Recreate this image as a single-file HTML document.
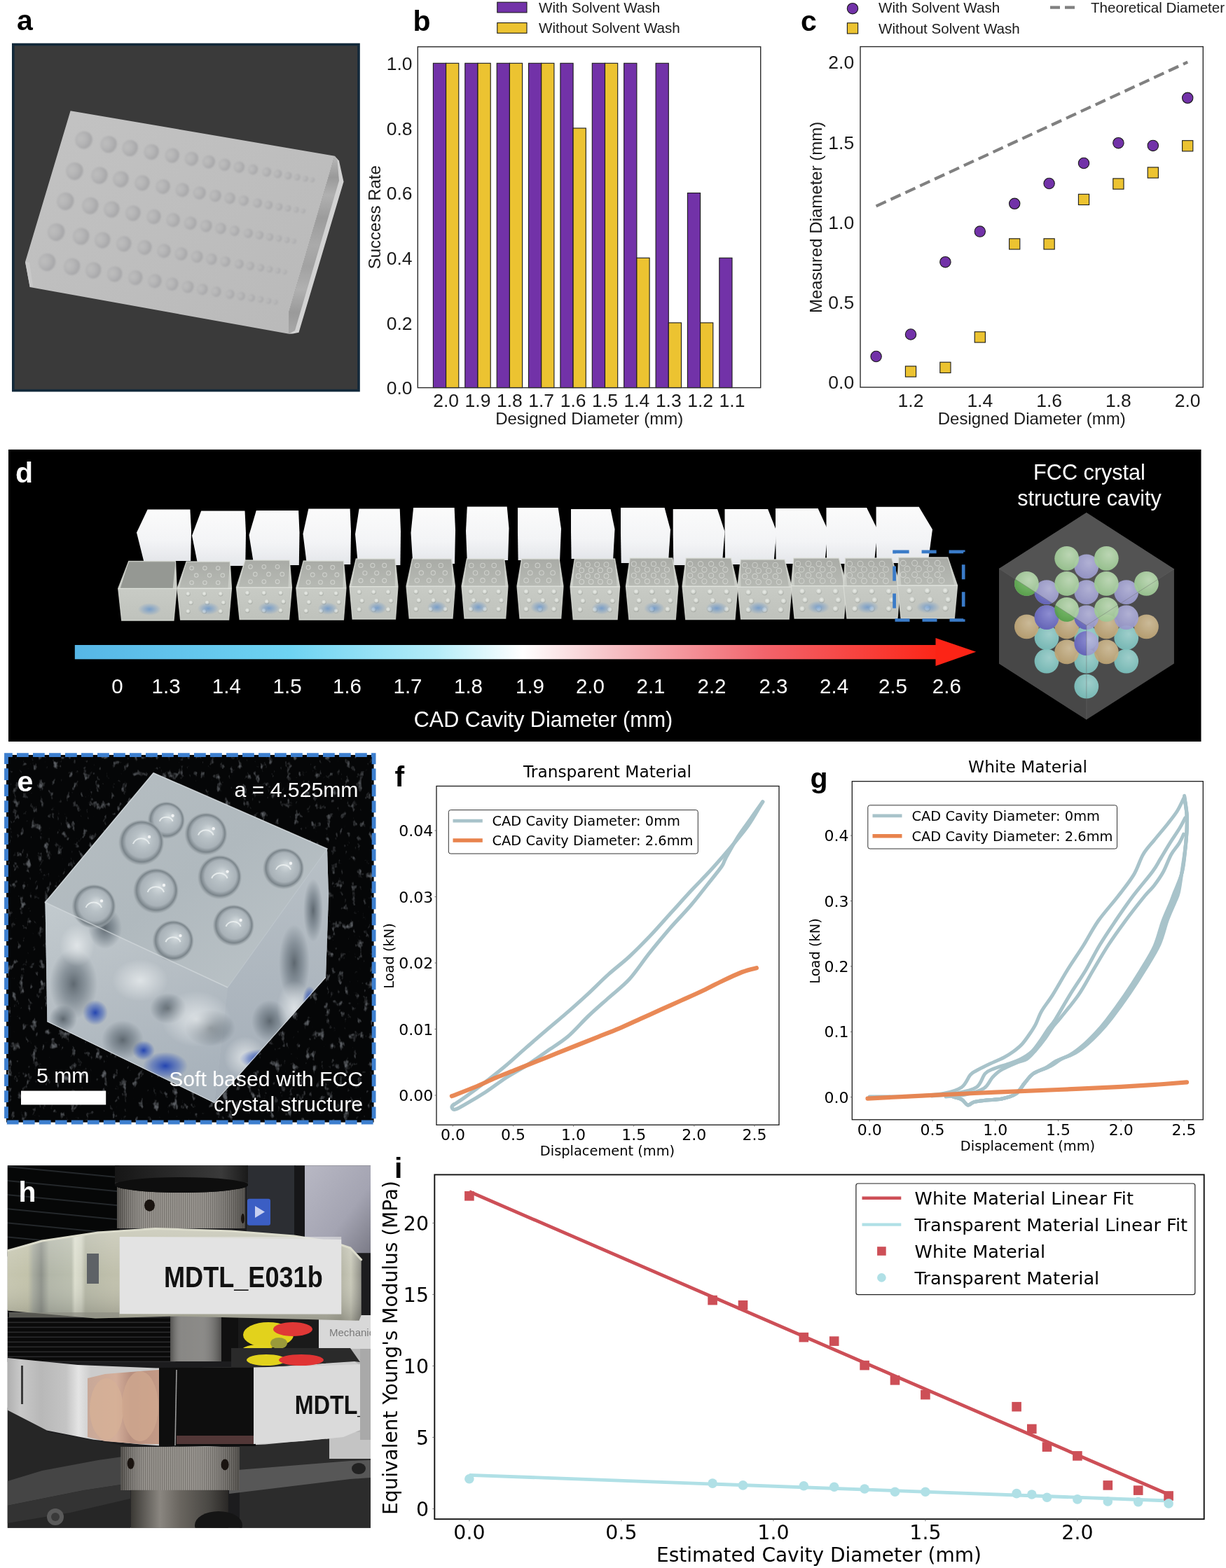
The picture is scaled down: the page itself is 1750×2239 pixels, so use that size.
<!DOCTYPE html>
<html><head><meta charset="utf-8"><title>Figure</title>
<style>html,body{margin:0;padding:0;background:#fff;}body{width:1750px;height:2239px;overflow:hidden;}svg{display:block;}</style>
</head><body><svg width="1750" height="2239" viewBox="0 0 1750 2239"><defs><clipPath id="clipf"><rect x="623" y="1122.5" width="488.5" height="483.5"/></clipPath><clipPath id="clipg"><rect x="1216.3" y="1115.7" width="501.0" height="483.0999999999999"/></clipPath><linearGradient id="aside" x1="0" y1="0" x2="0" y2="1"><stop offset="0" stop-color="#b8b8b8"/><stop offset="0.12" stop-color="#9a9a9a"/><stop offset="0.22" stop-color="#b0b0b0"/><stop offset="0.35" stop-color="#9c9c9c"/><stop offset="0.5" stop-color="#aaaaaa"/><stop offset="0.62" stop-color="#a2a2a2"/><stop offset="0.75" stop-color="#b0b0b0"/><stop offset="0.88" stop-color="#9a9a9a"/><stop offset="1" stop-color="#a8a8a8"/></linearGradient><linearGradient id="atop" x1="0" y1="0" x2="1" y2="1"><stop offset="0" stop-color="#c3c3c3"/><stop offset="1" stop-color="#b9b9b9"/></linearGradient><radialGradient id="dimp" cx="0.55" cy="0.5" r="0.5"><stop offset="0" stop-color="#a9a8aa"/><stop offset="0.7" stop-color="#adadae"/><stop offset="1" stop-color="#b8b8b8" stop-opacity="0"/></radialGradient><filter id="blur1"><feGaussianBlur stdDeviation="1.2"/></filter><radialGradient id="dimp2" cx="0.32" cy="0.42" r="0.72"><stop offset="0" stop-color="#bdbdbd"/><stop offset="0.45" stop-color="#b5b5b6"/><stop offset="0.85" stop-color="#a7a7a9"/><stop offset="1" stop-color="#adadae" stop-opacity="0"/></radialGradient><linearGradient id="wcube" x1="0" y1="0" x2="0" y2="1"><stop offset="0" stop-color="#fbfbfb"/><stop offset="0.6" stop-color="#f3f4f6"/><stop offset="1" stop-color="#e4e6ea"/></linearGradient><linearGradient id="tcubeT" x1="0" y1="0" x2="0" y2="1"><stop offset="0" stop-color="#a9aba6"/><stop offset="1" stop-color="#b7bab4"/></linearGradient><linearGradient id="tcubeF" x1="0" y1="0" x2="0" y2="1"><stop offset="0" stop-color="#d0d3cd"/><stop offset="1" stop-color="#bfc2bc"/></linearGradient><radialGradient id="blueb"><stop offset="0" stop-color="#3f7fd0" stop-opacity="0.75"/><stop offset="1" stop-color="#3f7fd0" stop-opacity="0"/></radialGradient><radialGradient id="bump" cx="0.45" cy="0.4" r="0.6"><stop offset="0" stop-color="#f4f6f2"/><stop offset="0.6" stop-color="#d6dad4"/><stop offset="1" stop-color="#8a8e88" stop-opacity="0.6"/></radialGradient><linearGradient id="arrg" x1="106.8" y1="0" x2="1336" y2="0" gradientUnits="userSpaceOnUse"><stop offset="0" stop-color="#56b6e6"/><stop offset="0.25" stop-color="#6ed3f2"/><stop offset="0.42" stop-color="#b4ecf8"/><stop offset="0.52" stop-color="#ffffff"/><stop offset="0.62" stop-color="#f6c3c8"/><stop offset="0.8" stop-color="#f2646c"/><stop offset="1" stop-color="#fc2618"/></linearGradient><radialGradient id="sg" cx="0.6" cy="0.35" r="0.7"><stop offset="0" stop-color="#c9e8c0"/><stop offset="1" stop-color="#9ccc92"/></radialGradient><radialGradient id="sp" cx="0.6" cy="0.35" r="0.7"><stop offset="0" stop-color="#bdbde6"/><stop offset="1" stop-color="#9898d0"/></radialGradient><radialGradient id="st" cx="0.6" cy="0.35" r="0.7"><stop offset="0" stop-color="#dcc8a0"/><stop offset="1" stop-color="#c0a470"/></radialGradient><radialGradient id="sc" cx="0.6" cy="0.35" r="0.7"><stop offset="0" stop-color="#a8e0dc"/><stop offset="1" stop-color="#78c4c0"/></radialGradient><clipPath id="lface"><polygon points="1426,812 1550.8,893 1550.8,1027.6 1426,947.6"/></clipPath><radialGradient id="sgD" cx="0.6" cy="0.35" r="0.7"><stop offset="0" stop-color="#7cc46c"/><stop offset="1" stop-color="#4e9e40"/></radialGradient><radialGradient id="spD" cx="0.6" cy="0.35" r="0.7"><stop offset="0" stop-color="#8a8ad8"/><stop offset="1" stop-color="#5a5ab8"/></radialGradient><filter id="speck" x="0" y="0" width="1" height="1"><feTurbulence type="fractalNoise" baseFrequency="0.11 0.07" numOctaves="3" seed="11" result="n"/><feColorMatrix type="matrix" values="0 0 0 0 0.52  0 0 0 0 0.56  0 0 0 0 0.62  0 0 0 4.5 -2.75"/><feGaussianBlur stdDeviation="0.7"/></filter><clipPath id="clipe"><rect x="11.7" y="1081.1" width="519" height="518"/></clipPath><linearGradient id="etop" x1="0" y1="0" x2="1" y2="1"><stop offset="0" stop-color="#b6bec2"/><stop offset="0.5" stop-color="#b0b9be"/><stop offset="1" stop-color="#bcc4c8"/></linearGradient><linearGradient id="eleft" x1="0" y1="0" x2="0.3" y2="1"><stop offset="0" stop-color="#c2cace"/><stop offset="0.5" stop-color="#b6bec4"/><stop offset="1" stop-color="#a9b3bc"/></linearGradient><linearGradient id="eright" x1="0" y1="0" x2="0" y2="1"><stop offset="0" stop-color="#b8c0c6"/><stop offset="1" stop-color="#a4aeb8"/></linearGradient><radialGradient id="ebub" cx="0.5" cy="0.5" r="0.5" fx="0.58" fy="0.4"><stop offset="0" stop-color="#d6dde0"/><stop offset="0.35" stop-color="#b8c1c6"/><stop offset="0.7" stop-color="#a9b2b8"/><stop offset="0.86" stop-color="#7a848a"/><stop offset="0.95" stop-color="#9aa3a8" stop-opacity="0.6"/><stop offset="1" stop-color="#b0b8bc" stop-opacity="0"/></radialGradient><radialGradient id="edark"><stop offset="0" stop-color="#505a62" stop-opacity="0.85"/><stop offset="0.5" stop-color="#5a6670" stop-opacity="0.5"/><stop offset="1" stop-color="#5a6670" stop-opacity="0"/></radialGradient><radialGradient id="eblue"><stop offset="0" stop-color="#1d3fb0" stop-opacity="0.95"/><stop offset="0.6" stop-color="#3456b8" stop-opacity="0.5"/><stop offset="1" stop-color="#3a5ab8" stop-opacity="0"/></radialGradient><radialGradient id="ewhite"><stop offset="0" stop-color="#e8ecee" stop-opacity="0.8"/><stop offset="1" stop-color="#e8ecee" stop-opacity="0"/></radialGradient><clipPath id="ecube"><polygon points="219,1103.7 467,1212 469,1280 465,1396 306,1575 67.4,1459 64.5,1288.5"/></clipPath><clipPath id="cliph"><rect x="10.6" y="1664.2" width="518.4" height="517.6000000000001"/></clipPath><pattern id="hstripe" width="60" height="20" patternUnits="userSpaceOnUse" patternTransform="translate(0,1667) rotate(5.5)"><rect width="60" height="20" fill="#060707"/><rect y="17" width="60" height="1.6" fill="#2a2e32"/></pattern><pattern id="hstripe2" width="40" height="7" patternUnits="userSpaceOnUse"><rect width="40" height="7" fill="#0a0a0a"/><rect y="4.5" width="40" height="1.6" fill="#2a2a2c"/></pattern><pattern id="knurl" width="3" height="10" patternUnits="userSpaceOnUse"><rect width="3" height="10" fill="#8c8882"/><rect width="1.2" height="10" fill="#6a6660"/></pattern><linearGradient id="knshade" x1="0" y1="0" x2="1" y2="0"><stop offset="0" stop-color="#000" stop-opacity="0.35"/><stop offset="0.25" stop-color="#fff" stop-opacity="0.1"/><stop offset="0.6" stop-color="#fff" stop-opacity="0.12"/><stop offset="1" stop-color="#000" stop-opacity="0.35"/></linearGradient><linearGradient id="screen" x1="0" y1="0" x2="1" y2="1"><stop offset="0" stop-color="#b8b8c4"/><stop offset="0.6" stop-color="#a4a4b2"/><stop offset="1" stop-color="#7a7a86"/></linearGradient><linearGradient id="silverL" x1="0" y1="0" x2="1" y2="0"><stop offset="0" stop-color="#a8a6a0"/><stop offset="0.15" stop-color="#c8c6c0"/><stop offset="0.35" stop-color="#b0aea8"/><stop offset="0.55" stop-color="#e8e8e6"/><stop offset="0.65" stop-color="#9c9a96"/><stop offset="0.8" stop-color="#c4c2bc"/><stop offset="1" stop-color="#b6b4ae"/></linearGradient><linearGradient id="silverU" gradientUnits="userSpaceOnUse" x1="11" y1="0" x2="516" y2="0"><stop offset="0" stop-color="#c6c6b0"/><stop offset="0.057" stop-color="#c2c2aa"/><stop offset="0.073" stop-color="#a6aa9e"/><stop offset="0.095" stop-color="#8e928a"/><stop offset="0.117" stop-color="#b2b6a8"/><stop offset="0.18" stop-color="#babeae"/><stop offset="0.19" stop-color="#dcdece"/><stop offset="0.208" stop-color="#d2d4c4"/><stop offset="0.22" stop-color="#b6b8a6"/><stop offset="0.3" stop-color="#c0c0ac"/><stop offset="0.9" stop-color="#c0c0b0"/><stop offset="0.94" stop-color="#b4b4a4"/><stop offset="0.97" stop-color="#c8c8b8"/><stop offset="1" stop-color="#8c8c84"/></linearGradient><linearGradient id="silverLo" gradientUnits="userSpaceOnUse" x1="11" y1="0" x2="130" y2="0"><stop offset="0" stop-color="#b0b0b0"/><stop offset="0.15" stop-color="#c8c8c8"/><stop offset="0.4" stop-color="#b8b8b8"/><stop offset="0.7" stop-color="#c4c4c4"/><stop offset="0.85" stop-color="#e4e4e4"/><stop offset="1" stop-color="#cccccc"/></linearGradient><linearGradient id="silverV" x1="0" y1="0" x2="0" y2="1"><stop offset="0" stop-color="#fff" stop-opacity="0.25"/><stop offset="0.5" stop-color="#fff" stop-opacity="0"/><stop offset="1" stop-color="#000" stop-opacity="0.2"/></linearGradient><linearGradient id="cylG" x1="0" y1="0" x2="1" y2="0"><stop offset="0" stop-color="#3a3834"/><stop offset="0.3" stop-color="#8a8680"/><stop offset="0.5" stop-color="#6a6660"/><stop offset="0.8" stop-color="#4a4844"/><stop offset="1" stop-color="#2a2826"/></linearGradient><linearGradient id="skin" x1="0" y1="0" x2="1" y2="0"><stop offset="0" stop-color="#c8a898"/><stop offset="0.4" stop-color="#d4ae9a"/><stop offset="0.6" stop-color="#b89080"/><stop offset="1" stop-color="#c49a86"/></linearGradient><linearGradient id="cylTop" x1="0" y1="0" x2="1" y2="0"><stop offset="0" stop-color="#161616"/><stop offset="0.45" stop-color="#2a2a2a"/><stop offset="0.8" stop-color="#3a3a3a"/><stop offset="1" stop-color="#1a1a1a"/></linearGradient></defs><rect x="0" y="0" width="1750" height="2239" fill="#ffffff" stroke="none" stroke-width="1" /><rect x="618.4" y="90.3" width="18.2" height="463.3" fill="#7232a8" stroke="#1a1a1a" stroke-width="1.1" /><rect x="636.6" y="90.3" width="18.2" height="463.3" fill="#ecc331" stroke="#1a1a1a" stroke-width="1.1" /><text x="636.6" y="580.5" font-family="Liberation Sans, sans-serif" font-size="26.5" text-anchor="middle" font-weight="normal" fill="#1a1a1a" >2.0</text><rect x="663.8" y="90.3" width="18.2" height="463.3" fill="#7232a8" stroke="#1a1a1a" stroke-width="1.1" /><rect x="682" y="90.3" width="18.2" height="463.3" fill="#ecc331" stroke="#1a1a1a" stroke-width="1.1" /><text x="682" y="580.5" font-family="Liberation Sans, sans-serif" font-size="26.5" text-anchor="middle" font-weight="normal" fill="#1a1a1a" >1.9</text><rect x="709.2" y="90.3" width="18.2" height="463.3" fill="#7232a8" stroke="#1a1a1a" stroke-width="1.1" /><rect x="727.4" y="90.3" width="18.2" height="463.3" fill="#ecc331" stroke="#1a1a1a" stroke-width="1.1" /><text x="727.4" y="580.5" font-family="Liberation Sans, sans-serif" font-size="26.5" text-anchor="middle" font-weight="normal" fill="#1a1a1a" >1.8</text><rect x="754.5" y="90.3" width="18.2" height="463.3" fill="#7232a8" stroke="#1a1a1a" stroke-width="1.1" /><rect x="772.7" y="90.3" width="18.2" height="463.3" fill="#ecc331" stroke="#1a1a1a" stroke-width="1.1" /><text x="772.7" y="580.5" font-family="Liberation Sans, sans-serif" font-size="26.5" text-anchor="middle" font-weight="normal" fill="#1a1a1a" >1.7</text><rect x="799.9" y="90.3" width="18.2" height="463.3" fill="#7232a8" stroke="#1a1a1a" stroke-width="1.1" /><rect x="818.1" y="183" width="18.2" height="370.6" fill="#ecc331" stroke="#1a1a1a" stroke-width="1.1" /><text x="818.1" y="580.5" font-family="Liberation Sans, sans-serif" font-size="26.5" text-anchor="middle" font-weight="normal" fill="#1a1a1a" >1.6</text><rect x="845.3" y="90.3" width="18.2" height="463.3" fill="#7232a8" stroke="#1a1a1a" stroke-width="1.1" /><rect x="863.5" y="90.3" width="18.2" height="463.3" fill="#ecc331" stroke="#1a1a1a" stroke-width="1.1" /><text x="863.5" y="580.5" font-family="Liberation Sans, sans-serif" font-size="26.5" text-anchor="middle" font-weight="normal" fill="#1a1a1a" >1.5</text><rect x="890.7" y="90.3" width="18.2" height="463.3" fill="#7232a8" stroke="#1a1a1a" stroke-width="1.1" /><rect x="908.9" y="368.3" width="18.2" height="185.3" fill="#ecc331" stroke="#1a1a1a" stroke-width="1.1" /><text x="908.9" y="580.5" font-family="Liberation Sans, sans-serif" font-size="26.5" text-anchor="middle" font-weight="normal" fill="#1a1a1a" >1.4</text><rect x="936.1" y="90.3" width="18.2" height="463.3" fill="#7232a8" stroke="#1a1a1a" stroke-width="1.1" /><rect x="954.3" y="460.9" width="18.2" height="92.7" fill="#ecc331" stroke="#1a1a1a" stroke-width="1.1" /><text x="954.3" y="580.5" font-family="Liberation Sans, sans-serif" font-size="26.5" text-anchor="middle" font-weight="normal" fill="#1a1a1a" >1.3</text><rect x="981.4" y="275.6" width="18.2" height="278" fill="#7232a8" stroke="#1a1a1a" stroke-width="1.1" /><rect x="999.6" y="460.9" width="18.2" height="92.7" fill="#ecc331" stroke="#1a1a1a" stroke-width="1.1" /><text x="999.6" y="580.5" font-family="Liberation Sans, sans-serif" font-size="26.5" text-anchor="middle" font-weight="normal" fill="#1a1a1a" >1.2</text><rect x="1026.8" y="368.3" width="18.2" height="185.3" fill="#7232a8" stroke="#1a1a1a" stroke-width="1.1" /><text x="1045" y="580.5" font-family="Liberation Sans, sans-serif" font-size="26.5" text-anchor="middle" font-weight="normal" fill="#1a1a1a" >1.1</text><rect x="596.3" y="66.8" width="489.4" height="486.8" fill="none" stroke="#2b2b2b" stroke-width="1.4" /><text x="588.6" y="563.3" font-family="Liberation Sans, sans-serif" font-size="26.5" text-anchor="end" font-weight="normal" fill="#1a1a1a" >0.0</text><text x="588.6" y="470.6" font-family="Liberation Sans, sans-serif" font-size="26.5" text-anchor="end" font-weight="normal" fill="#1a1a1a" >0.2</text><text x="588.6" y="378" font-family="Liberation Sans, sans-serif" font-size="26.5" text-anchor="end" font-weight="normal" fill="#1a1a1a" >0.4</text><text x="588.6" y="285.3" font-family="Liberation Sans, sans-serif" font-size="26.5" text-anchor="end" font-weight="normal" fill="#1a1a1a" >0.6</text><text x="588.6" y="192.7" font-family="Liberation Sans, sans-serif" font-size="26.5" text-anchor="end" font-weight="normal" fill="#1a1a1a" >0.8</text><text x="588.6" y="100" font-family="Liberation Sans, sans-serif" font-size="26.5" text-anchor="end" font-weight="normal" fill="#1a1a1a" >1.0</text><text x="841.2" y="606.4" font-family="Liberation Sans, sans-serif" font-size="24" text-anchor="middle" font-weight="normal" fill="#1a1a1a" >Designed Diameter (mm)</text><text transform="translate(543.3,310.2) rotate(-90)" x="0" y="0" font-family="Liberation Sans, sans-serif" font-size="24" text-anchor="middle" fill="#1a1a1a">Success Rate</text><rect x="709.8" y="3.2" width="42.2" height="14.7" fill="#7232a8" stroke="#1a1a1a" stroke-width="1.1" /><rect x="709.8" y="32.6" width="42.2" height="14.7" fill="#ecc331" stroke="#1a1a1a" stroke-width="1.1" /><text x="769" y="17.6" font-family="Liberation Sans, sans-serif" font-size="20.6" text-anchor="start" font-weight="normal" fill="#1a1a1a" >With Solvent Wash</text><text x="769" y="47.1" font-family="Liberation Sans, sans-serif" font-size="20.6" text-anchor="start" font-weight="normal" fill="#1a1a1a" >Without Solvent Wash</text><text x="589.5" y="44" font-family="Liberation Sans, sans-serif" font-size="41" text-anchor="start" font-weight="bold" fill="#000" >b</text><line x1="1250.6" y1="294.4" x2="1695.2" y2="88.7" stroke="#808080" stroke-width="4.2" stroke-dasharray="15.5,7.5"/><circle cx="1250.6" cy="509" r="7.7" fill="#7232a8" stroke="#1a1a1a" stroke-width="1.1"/><circle cx="1300" cy="477.5" r="7.7" fill="#7232a8" stroke="#1a1a1a" stroke-width="1.1"/><circle cx="1349.4" cy="374.2" r="7.7" fill="#7232a8" stroke="#1a1a1a" stroke-width="1.1"/><circle cx="1398.8" cy="330.6" r="7.7" fill="#7232a8" stroke="#1a1a1a" stroke-width="1.1"/><circle cx="1448.2" cy="290.8" r="7.7" fill="#7232a8" stroke="#1a1a1a" stroke-width="1.1"/><circle cx="1497.6" cy="262" r="7.7" fill="#7232a8" stroke="#1a1a1a" stroke-width="1.1"/><circle cx="1547" cy="233" r="7.7" fill="#7232a8" stroke="#1a1a1a" stroke-width="1.1"/><circle cx="1596.4" cy="204.2" r="7.7" fill="#7232a8" stroke="#1a1a1a" stroke-width="1.1"/><circle cx="1645.8" cy="207.9" r="7.7" fill="#7232a8" stroke="#1a1a1a" stroke-width="1.1"/><circle cx="1695.2" cy="139.8" r="7.7" fill="#7232a8" stroke="#1a1a1a" stroke-width="1.1"/><rect x="1292.4" y="522.9" width="15.2" height="15.2" fill="#ecc331" stroke="#1a1a1a" stroke-width="1.1" /><rect x="1341.8" y="517.2" width="15.2" height="15.2" fill="#ecc331" stroke="#1a1a1a" stroke-width="1.1" /><rect x="1391.2" y="473.8" width="15.2" height="15.2" fill="#ecc331" stroke="#1a1a1a" stroke-width="1.1" /><rect x="1440.6" y="340.8" width="15.2" height="15.2" fill="#ecc331" stroke="#1a1a1a" stroke-width="1.1" /><rect x="1490" y="340.8" width="15.2" height="15.2" fill="#ecc331" stroke="#1a1a1a" stroke-width="1.1" /><rect x="1539.4" y="277.3" width="15.2" height="15.2" fill="#ecc331" stroke="#1a1a1a" stroke-width="1.1" /><rect x="1588.8" y="254.9" width="15.2" height="15.2" fill="#ecc331" stroke="#1a1a1a" stroke-width="1.1" /><rect x="1638.2" y="238.9" width="15.2" height="15.2" fill="#ecc331" stroke="#1a1a1a" stroke-width="1.1" /><rect x="1687.6" y="200.7" width="15.2" height="15.2" fill="#ecc331" stroke="#1a1a1a" stroke-width="1.1" /><rect x="1228" y="66.6" width="489.3" height="486.4" fill="none" stroke="#2b2b2b" stroke-width="1.4" /><text x="1300" y="580.7" font-family="Liberation Sans, sans-serif" font-size="26.5" text-anchor="middle" font-weight="normal" fill="#1a1a1a" >1.2</text><text x="1398.8" y="580.7" font-family="Liberation Sans, sans-serif" font-size="26.5" text-anchor="middle" font-weight="normal" fill="#1a1a1a" >1.4</text><text x="1497.6" y="580.7" font-family="Liberation Sans, sans-serif" font-size="26.5" text-anchor="middle" font-weight="normal" fill="#1a1a1a" >1.6</text><text x="1596.4" y="580.7" font-family="Liberation Sans, sans-serif" font-size="26.5" text-anchor="middle" font-weight="normal" fill="#1a1a1a" >1.8</text><text x="1695.2" y="580.7" font-family="Liberation Sans, sans-serif" font-size="26.5" text-anchor="middle" font-weight="normal" fill="#1a1a1a" >2.0</text><text x="1219.2" y="555.4" font-family="Liberation Sans, sans-serif" font-size="26.5" text-anchor="end" font-weight="normal" fill="#1a1a1a" >0.0</text><text x="1219.2" y="441.2" font-family="Liberation Sans, sans-serif" font-size="26.5" text-anchor="end" font-weight="normal" fill="#1a1a1a" >0.5</text><text x="1219.2" y="326.9" font-family="Liberation Sans, sans-serif" font-size="26.5" text-anchor="end" font-weight="normal" fill="#1a1a1a" >1.0</text><text x="1219.2" y="212.7" font-family="Liberation Sans, sans-serif" font-size="26.5" text-anchor="end" font-weight="normal" fill="#1a1a1a" >1.5</text><text x="1219.2" y="98.4" font-family="Liberation Sans, sans-serif" font-size="26.5" text-anchor="end" font-weight="normal" fill="#1a1a1a" >2.0</text><text x="1472.8" y="605.5" font-family="Liberation Sans, sans-serif" font-size="24" text-anchor="middle" font-weight="normal" fill="#1a1a1a" >Designed Diameter (mm)</text><text transform="translate(1173,310.4) rotate(-90)" x="0" y="0" font-family="Liberation Sans, sans-serif" font-size="24" text-anchor="middle" fill="#1a1a1a">Measured Diameter (mm)</text><circle cx="1217" cy="12.2" r="7.7" fill="#7232a8" stroke="#1a1a1a" stroke-width="1.1"/><rect x="1209.4" y="32.8" width="15.2" height="15.2" fill="#ecc331" stroke="#1a1a1a" stroke-width="1.1" /><text x="1254" y="18.3" font-family="Liberation Sans, sans-serif" font-size="20.6" text-anchor="start" font-weight="normal" fill="#1a1a1a" >With Solvent Wash</text><text x="1254" y="47.6" font-family="Liberation Sans, sans-serif" font-size="20.6" text-anchor="start" font-weight="normal" fill="#1a1a1a" >Without Solvent Wash</text><line x1="1499" y1="10.7" x2="1535" y2="10.7" stroke="#808080" stroke-width="4.2" stroke-dasharray="14,7"/><text x="1557" y="18.3" font-family="Liberation Sans, sans-serif" font-size="20.6" text-anchor="start" font-weight="normal" fill="#1a1a1a" >Theoretical Diameter</text><text x="1143" y="43.8" font-family="Liberation Sans, sans-serif" font-size="41" text-anchor="start" font-weight="bold" fill="#000" >c</text><g clip-path="url(#clipf)"><path d="M646.4 1578.4 C649.3 1576.5 656.1 1572.3 663.9 1566.7 C671.7 1561.1 683.5 1552.3 693.2 1544.7 C703 1537.2 713.2 1529.1 722.5 1521.3 C731.8 1513.5 739.1 1506.4 748.9 1497.9 C758.6 1489.3 770.8 1478.8 781.1 1470 C791.4 1461.2 800.6 1453.7 810.4 1445.1 C820.2 1436.6 829.9 1427.8 839.7 1418.8 C849.4 1409.7 859.2 1399.7 869 1390.9 C878.7 1382.2 888.5 1375.1 898.3 1366 C908 1357 917.8 1347 927.6 1336.8 C937.3 1326.5 947.1 1315.3 956.8 1304.5 C966.6 1293.8 976.4 1282.8 986.1 1272.3 C995.9 1261.8 1005.7 1252.3 1015.4 1241.6 C1025.2 1230.8 1035.9 1218.4 1044.7 1207.9 C1053.5 1197.4 1060.8 1189.1 1068.2 1178.6 C1075.5 1168.1 1085.2 1150.5 1088.7 1144.9" fill="none" stroke="#a8c3ca" stroke-width="5.2" stroke-linejoin="round" stroke-linecap="round" /><path d="M1088.7 1144.9 C1085.7 1149 1076.9 1161.5 1071.1 1169.8 C1065.2 1178.1 1059.4 1185.4 1053.5 1194.7 C1047.7 1204 1039.8 1218.4 1035.9 1225.4 C1032 1232.5 1034.5 1230.8 1030.1 1237.2 C1025.7 1243.5 1016.9 1254.3 1009.6 1263.5 C1002.2 1272.8 994.9 1282.6 986.1 1292.8 C977.4 1303.1 966.6 1313.8 956.8 1325 C947.1 1336.3 937.3 1348 927.6 1360.2 C917.8 1372.4 908 1387.5 898.3 1398.3 C888.5 1409 878.7 1415.8 869 1424.6 C859.2 1433.4 849.4 1441.7 839.7 1451 C829.9 1460.3 820.2 1472 810.4 1480.3 C800.6 1488.6 790.9 1494 781.1 1500.8 C771.3 1507.6 761.6 1514.9 751.8 1521.3 C742 1527.6 732.3 1532.5 722.5 1538.9 C712.8 1545.2 703 1553 693.2 1559.4 C683.5 1565.7 671.3 1572.8 663.9 1576.9 C656.6 1581.1 652.5 1583.7 649.3 1584.3 C646.1 1584.9 645.1 1581.7 644.9 1580.5 C644.7 1579.2 647.3 1577.5 647.8 1576.9" fill="none" stroke="#a8c3ca" stroke-width="5.2" stroke-linejoin="round" stroke-linecap="round" /><path d="M644.9 1565.2 C650.5 1563 668.1 1556.4 678.6 1552 C689.1 1547.7 698.1 1543 707.9 1538.9 C717.6 1534.7 727.4 1531.1 737.2 1527.1 C746.9 1523.2 756.7 1519.3 766.5 1515.4 C776.2 1511.5 786 1507.6 795.7 1503.7 C805.5 1499.8 815.3 1495.9 825 1492 C834.8 1488.1 844.6 1484.2 854.3 1480.3 C864.1 1476.4 873.9 1472.7 883.6 1468.6 C893.4 1464.4 903.1 1459.8 912.9 1455.4 C922.7 1451 932.4 1446.6 942.2 1442.2 C952 1437.8 961.7 1433.4 971.5 1429 C981.3 1424.6 991 1420.5 1000.8 1415.8 C1010.5 1411.2 1020.3 1405.8 1030.1 1401.2 C1039.8 1396.6 1051.1 1391.2 1059.4 1388 C1067.7 1384.8 1076.5 1383.1 1079.9 1382.2" fill="none" stroke="#e8834d" stroke-width="6.2" stroke-linejoin="round" stroke-linecap="round" opacity="0.95"/></g><rect x="623" y="1122.5" width="489" height="483.8" fill="none" stroke="#1a1a1a" stroke-width="1.3" /><line x1="646.4" y1="1606.3" x2="646.4" y2="1608.8" stroke="#555" stroke-width="0.8" /><text x="646.4" y="1627.8" font-family="DejaVu Sans, sans-serif" font-size="22" text-anchor="middle" font-weight="normal" fill="#000" >0.0</text><line x1="732.5" y1="1606.3" x2="732.5" y2="1608.8" stroke="#555" stroke-width="0.8" /><text x="732.5" y="1627.8" font-family="DejaVu Sans, sans-serif" font-size="22" text-anchor="middle" font-weight="normal" fill="#000" >0.5</text><line x1="818.6" y1="1606.3" x2="818.6" y2="1608.8" stroke="#555" stroke-width="0.8" /><text x="818.6" y="1627.8" font-family="DejaVu Sans, sans-serif" font-size="22" text-anchor="middle" font-weight="normal" fill="#000" >1.0</text><line x1="904.7" y1="1606.3" x2="904.7" y2="1608.8" stroke="#555" stroke-width="0.8" /><text x="904.7" y="1627.8" font-family="DejaVu Sans, sans-serif" font-size="22" text-anchor="middle" font-weight="normal" fill="#000" >1.5</text><line x1="990.8" y1="1606.3" x2="990.8" y2="1608.8" stroke="#555" stroke-width="0.8" /><text x="990.8" y="1627.8" font-family="DejaVu Sans, sans-serif" font-size="22" text-anchor="middle" font-weight="normal" fill="#000" >2.0</text><line x1="1076.9" y1="1606.3" x2="1076.9" y2="1608.8" stroke="#555" stroke-width="0.8" /><text x="1076.9" y="1627.8" font-family="DejaVu Sans, sans-serif" font-size="22" text-anchor="middle" font-weight="normal" fill="#000" >2.5</text><line x1="620.5" y1="1564" x2="623" y2="1564" stroke="#555" stroke-width="0.8" /><text x="618.3" y="1572.1" font-family="DejaVu Sans, sans-serif" font-size="22" text-anchor="end" font-weight="normal" fill="#000" >0.00</text><line x1="620.5" y1="1469.5" x2="623" y2="1469.5" stroke="#555" stroke-width="0.8" /><text x="618.3" y="1477.6" font-family="DejaVu Sans, sans-serif" font-size="22" text-anchor="end" font-weight="normal" fill="#000" >0.01</text><line x1="620.5" y1="1375" x2="623" y2="1375" stroke="#555" stroke-width="0.8" /><text x="618.3" y="1383.1" font-family="DejaVu Sans, sans-serif" font-size="22" text-anchor="end" font-weight="normal" fill="#000" >0.02</text><line x1="620.5" y1="1280.5" x2="623" y2="1280.5" stroke="#555" stroke-width="0.8" /><text x="618.3" y="1288.6" font-family="DejaVu Sans, sans-serif" font-size="22" text-anchor="end" font-weight="normal" fill="#000" >0.03</text><line x1="620.5" y1="1186" x2="623" y2="1186" stroke="#555" stroke-width="0.8" /><text x="618.3" y="1194.1" font-family="DejaVu Sans, sans-serif" font-size="22" text-anchor="end" font-weight="normal" fill="#000" >0.04</text><text x="867" y="1650" font-family="DejaVu Sans, sans-serif" font-size="19.4" text-anchor="middle" font-weight="normal" fill="#000" >Displacement (mm)</text><text transform="translate(561.5,1365) rotate(-90)" x="0" y="0" font-family="DejaVu Sans, sans-serif" font-size="19.4" text-anchor="middle" fill="#000">Load (kN)</text><text x="867" y="1110.4" font-family="DejaVu Sans, sans-serif" font-size="23.3" text-anchor="middle" font-weight="normal" fill="#000" >Transparent Material</text><rect x="640.3" y="1156.6" width="356" height="62.4" rx="3" fill="#fff" fill-opacity="0.8" stroke="#333" stroke-width="1"/><line x1="646.5" y1="1172.1" x2="688.8" y2="1172.1" stroke="#a8c3ca" stroke-width="4.6" /><line x1="646.5" y1="1200" x2="688.8" y2="1200" stroke="#e8834d" stroke-width="5.4" /><text x="702.5" y="1179.2" font-family="DejaVu Sans, sans-serif" font-size="19.4" text-anchor="start" font-weight="normal" fill="#000" >CAD Cavity Diameter: 0mm</text><text x="702.5" y="1207.3" font-family="DejaVu Sans, sans-serif" font-size="19.4" text-anchor="start" font-weight="normal" fill="#000" >CAD Cavity Diameter: 2.6mm</text><text x="563.5" y="1123.2" font-family="Liberation Sans, sans-serif" font-size="41" text-anchor="start" font-weight="bold" fill="#000" >f</text><g clip-path="url(#clipg)"><path d="M1241 1566 C1250.8 1565.9 1282.4 1566.2 1300 1565.5 C1317.6 1564.8 1334.3 1563.7 1346.4 1561.5 C1358.5 1559.3 1366.3 1556.9 1372.7 1552.5 C1379.1 1548.1 1381.5 1538.9 1385 1534.9 C1388.5 1531 1389.1 1531.4 1393.8 1528.8 C1398.5 1526.2 1406.6 1522.2 1413.1 1519.1 C1419.5 1516 1426.9 1513.2 1432.5 1510.3 C1438.1 1507.4 1442.1 1504.7 1446.5 1501.5 C1450.9 1498.3 1455 1495.1 1458.8 1491 C1462.6 1486.9 1466.2 1481.6 1469.4 1476.9 C1472.6 1472.2 1475.3 1468.4 1478.2 1462.8 C1481.1 1457.2 1482.9 1450.5 1487 1443.5 C1491.1 1436.5 1496.5 1430.3 1502.6 1420.6 C1508.7 1410.8 1516.4 1396.8 1523.7 1385 C1531 1373.2 1539.2 1361.7 1546.5 1350 C1553.8 1338.3 1559.4 1326.7 1567.6 1315 C1575.8 1303.3 1587.2 1291 1595.7 1280 C1604.2 1269 1612.3 1259.1 1618.3 1249.1 C1624.3 1239.1 1626.8 1228.4 1631.6 1220.2 C1636.4 1212 1641.2 1207.5 1647.2 1200.1 C1653.2 1192.7 1661.7 1182.8 1667.3 1175.7 C1672.9 1168.7 1676.7 1164.1 1680.6 1157.8 C1684.5 1151.5 1688.9 1141.1 1690.6 1137.8" fill="none" stroke="#a8c3ca" stroke-width="5" stroke-linejoin="round" stroke-linecap="round" /><path d="M1330 1565 C1335.7 1564.4 1353.3 1563.4 1363.9 1561.3 C1374.5 1559.2 1386.8 1557.2 1393.8 1552.5 C1400.8 1547.8 1402 1537.5 1406.1 1533.1 C1410.2 1528.7 1412.8 1528.4 1418.4 1526.1 C1424 1523.8 1433 1521.4 1439.5 1519.1 C1446 1516.8 1451.5 1515 1457.1 1512.1 C1462.7 1509.2 1468.2 1505.9 1472.9 1501.5 C1477.6 1497.1 1481.4 1491 1485.2 1485.7 C1489 1480.4 1492.2 1474.9 1495.7 1469.9 C1499.2 1464.9 1501 1464 1506.3 1455.8 C1511.5 1447.6 1519.9 1432.4 1527.2 1420.6 C1534.5 1408.8 1543 1396.8 1550 1385 C1557 1373.2 1562.4 1361.7 1569.4 1350 C1576.4 1338.3 1584.3 1326.7 1592.2 1315 C1600.1 1303.3 1608 1291.7 1616.8 1280 C1625.6 1268.3 1638.5 1253.5 1645 1244.7 C1651.5 1235.9 1652 1233.6 1656.1 1226.9 C1660.2 1220.2 1664.8 1212 1669.5 1204.6 C1674.2 1197.2 1680.3 1188.4 1684 1182.3 C1687.7 1176.2 1690.4 1170.3 1691.7 1167.9" fill="none" stroke="#a8c3ca" stroke-width="5" stroke-linejoin="round" stroke-linecap="round" /><path d="M1350 1566 C1354.7 1565.5 1368.9 1565 1378 1563 C1387.1 1561 1398 1558.3 1404.4 1554.2 C1410.9 1550.1 1412.6 1542.8 1416.7 1538.4 C1420.8 1534 1423.2 1531.4 1429 1527.9 C1434.8 1524.4 1445.6 1519.9 1451.8 1517.3 C1458 1514.7 1461.5 1515 1465.9 1512.1 C1470.3 1509.2 1473.8 1504.8 1478.2 1499.8 C1482.6 1494.8 1488.1 1487.8 1492.2 1482.2 C1496.3 1476.6 1499.3 1471.1 1502.8 1466.4 C1506.3 1461.7 1507.2 1461.6 1513.3 1454 C1519.4 1446.4 1531.6 1432.1 1539.5 1420.6 C1547.4 1409.1 1553.6 1396.8 1560.6 1385 C1567.6 1373.2 1574.1 1361.7 1581.7 1350 C1589.3 1338.3 1597.7 1326.7 1606.3 1315 C1614.9 1303.3 1626.7 1288.4 1633.5 1280 C1640.3 1271.6 1642.7 1270.6 1647.2 1264.7 C1651.7 1258.8 1656.5 1252.1 1660.6 1244.7 C1664.7 1237.3 1668 1226.9 1671.7 1220.2 C1675.4 1213.5 1679.8 1209.4 1682.8 1204.6 C1685.8 1199.8 1688.4 1193.4 1689.5 1191.2" fill="none" stroke="#a8c3ca" stroke-width="5" stroke-linejoin="round" stroke-linecap="round" /><path d="M1690.6 1138.8 C1691.2 1142.9 1693.4 1155.1 1694 1163.3 C1694.6 1171.5 1694.4 1179.3 1694 1187.8 C1693.6 1196.3 1692.8 1204.8 1691.7 1214.5 C1690.6 1224.2 1690 1235.3 1687.3 1245.7 C1684.6 1256.1 1678.3 1269.2 1675.4 1276.8 C1672.5 1284.3 1672.7 1284.5 1670 1291 C1667.3 1297.5 1663.2 1306 1659.5 1316 C1655.8 1326 1653.2 1339.3 1648 1351 C1642.8 1362.7 1635.2 1374.2 1628 1386 C1620.8 1397.8 1613.1 1409.8 1605 1421.6 C1596.9 1433.4 1586.5 1447.6 1579.5 1456.7 C1572.5 1465.8 1568.7 1470 1563 1476 C1557.3 1482 1551.3 1488 1545.5 1493 C1539.7 1498 1534.2 1502.4 1527.9 1506 C1521.7 1509.6 1513.9 1511.7 1508 1514.8 C1502.1 1517.9 1498.2 1521.7 1492.7 1524.7 C1487.2 1527.7 1480 1529.5 1475 1533 C1470 1536.5 1467.2 1541.2 1463 1546 C1458.8 1550.8 1455.5 1558.2 1450 1562 C1444.5 1565.8 1437 1567.5 1430 1569 C1423 1570.5 1414.5 1570.2 1407.9 1571 C1401.3 1571.8 1394.7 1572.4 1390.3 1573.6 C1385.9 1574.8 1384.4 1578.6 1381.5 1578 C1378.6 1577.4 1376.3 1572 1372.7 1570 C1369.1 1568 1362.1 1566.7 1360 1566" fill="none" stroke="#a8c3ca" stroke-width="5" stroke-linejoin="round" stroke-linecap="round" /><path d="M1690.6 1137.8 C1691.2 1141.9 1693.4 1154.1 1694 1162.3 C1694.6 1170.5 1694.4 1178.3 1694 1186.8 C1693.6 1195.3 1692.8 1203.8 1691.7 1213.5 C1690.6 1223.2 1689.5 1234.3 1687.3 1244.7 C1685.1 1255.1 1680.8 1268.2 1678.4 1275.8 C1676 1283.3 1675.7 1283.5 1673 1290 C1670.3 1296.5 1666.2 1305 1662.5 1315 C1658.8 1325 1656.2 1338.3 1651 1350 C1645.8 1361.7 1638.2 1373.2 1631 1385 C1623.8 1396.8 1616.1 1408.8 1608 1420.6 C1599.9 1432.4 1589.5 1446.6 1582.5 1455.7 C1575.5 1464.8 1571.7 1469 1566 1475 C1560.3 1481 1554.3 1487 1548.5 1492 C1542.7 1497 1537.2 1501.4 1530.9 1505 C1524.7 1508.6 1516.9 1510.7 1511 1513.8 C1505.1 1516.9 1501.7 1520.5 1495.7 1523.7 C1489.7 1526.9 1480.5 1529.3 1475 1533 C1469.5 1536.7 1467.2 1541.2 1463 1546 C1458.8 1550.8 1455.5 1558.2 1450 1562 C1444.5 1565.8 1437 1567.5 1430 1569 C1423 1570.5 1414.5 1570.2 1407.9 1571 C1401.3 1571.8 1394.7 1572.4 1390.3 1573.6 C1385.9 1574.8 1384.4 1578.6 1381.5 1578 C1378.6 1577.4 1376.3 1572 1372.7 1570 C1369.1 1568 1362.1 1566.7 1360 1566" fill="none" stroke="#a8c3ca" stroke-width="5" stroke-linejoin="round" stroke-linecap="round" /><path d="M1690.6 1136.3 C1691.2 1140.4 1693.4 1152.6 1694 1160.8 C1694.6 1169 1694.4 1176.8 1694 1185.3 C1693.6 1193.8 1692.8 1202.3 1691.7 1212 C1690.6 1221.7 1688.8 1232.8 1687.3 1243.2 C1685.8 1253.6 1684.1 1266.8 1682.4 1274.3 C1680.7 1281.8 1679.7 1282 1677 1288.5 C1674.3 1295 1670.2 1303.5 1666.5 1313.5 C1662.8 1323.5 1660.2 1336.8 1655 1348.5 C1649.8 1360.2 1642.2 1371.7 1635 1383.5 C1627.8 1395.3 1620.1 1407.3 1612 1419.1 C1603.9 1430.9 1593.5 1445.1 1586.5 1454.2 C1579.5 1463.3 1575.7 1467.5 1570 1473.5 C1564.3 1479.5 1558.3 1485.5 1552.5 1490.5 C1546.7 1495.5 1541.2 1499.9 1534.9 1503.5 C1528.7 1507.1 1520.9 1509.2 1515 1512.3 C1509.1 1515.4 1506.4 1518.8 1499.7 1522.2 C1493 1525.7 1481.1 1529 1475 1533 C1468.9 1537 1467.2 1541.2 1463 1546 C1458.8 1550.8 1455.5 1558.2 1450 1562 C1444.5 1565.8 1437 1567.5 1430 1569 C1423 1570.5 1414.5 1570.2 1407.9 1571 C1401.3 1571.8 1394.7 1572.4 1390.3 1573.6 C1385.9 1574.8 1384.4 1578.6 1381.5 1578 C1378.6 1577.4 1376.3 1572 1372.7 1570 C1369.1 1568 1362.1 1566.7 1360 1566" fill="none" stroke="#a8c3ca" stroke-width="5" stroke-linejoin="round" stroke-linecap="round" /><path d="M1238.5 1568.6 C1253.9 1567.8 1300.6 1565.4 1331 1563.9 C1361.3 1562.4 1390.8 1561 1420.7 1559.7 C1450.6 1558.4 1480.5 1557.3 1510.5 1556 C1540.4 1554.6 1576.3 1553 1600.2 1551.8 C1624.1 1550.5 1638.4 1549.5 1654 1548.5 C1669.7 1547.4 1687.3 1545.9 1694 1545.4" fill="none" stroke="#e8834d" stroke-width="6.2" stroke-linejoin="round" stroke-linecap="round" opacity="0.95"/></g><rect x="1216.3" y="1115.7" width="501" height="483.1" fill="none" stroke="#1a1a1a" stroke-width="1.3" /><line x1="1241.2" y1="1598.8" x2="1241.2" y2="1601.3" stroke="#555" stroke-width="0.8" /><text x="1241.2" y="1620.8" font-family="DejaVu Sans, sans-serif" font-size="22" text-anchor="middle" font-weight="normal" fill="#000" >0.0</text><line x1="1331" y1="1598.8" x2="1331" y2="1601.3" stroke="#555" stroke-width="0.8" /><text x="1331" y="1620.8" font-family="DejaVu Sans, sans-serif" font-size="22" text-anchor="middle" font-weight="normal" fill="#000" >0.5</text><line x1="1420.7" y1="1598.8" x2="1420.7" y2="1601.3" stroke="#555" stroke-width="0.8" /><text x="1420.7" y="1620.8" font-family="DejaVu Sans, sans-serif" font-size="22" text-anchor="middle" font-weight="normal" fill="#000" >1.0</text><line x1="1510.5" y1="1598.8" x2="1510.5" y2="1601.3" stroke="#555" stroke-width="0.8" /><text x="1510.5" y="1620.8" font-family="DejaVu Sans, sans-serif" font-size="22" text-anchor="middle" font-weight="normal" fill="#000" >1.5</text><line x1="1600.2" y1="1598.8" x2="1600.2" y2="1601.3" stroke="#555" stroke-width="0.8" /><text x="1600.2" y="1620.8" font-family="DejaVu Sans, sans-serif" font-size="22" text-anchor="middle" font-weight="normal" fill="#000" >2.0</text><line x1="1690" y1="1598.8" x2="1690" y2="1601.3" stroke="#555" stroke-width="0.8" /><text x="1690" y="1620.8" font-family="DejaVu Sans, sans-serif" font-size="22" text-anchor="middle" font-weight="normal" fill="#000" >2.5</text><line x1="1213.8" y1="1566.7" x2="1216.3" y2="1566.7" stroke="#555" stroke-width="0.8" /><text x="1211.5" y="1574.8" font-family="DejaVu Sans, sans-serif" font-size="22" text-anchor="end" font-weight="normal" fill="#000" >0.0</text><line x1="1213.8" y1="1473.3" x2="1216.3" y2="1473.3" stroke="#555" stroke-width="0.8" /><text x="1211.5" y="1481.4" font-family="DejaVu Sans, sans-serif" font-size="22" text-anchor="end" font-weight="normal" fill="#000" >0.1</text><line x1="1213.8" y1="1379.9" x2="1216.3" y2="1379.9" stroke="#555" stroke-width="0.8" /><text x="1211.5" y="1388" font-family="DejaVu Sans, sans-serif" font-size="22" text-anchor="end" font-weight="normal" fill="#000" >0.2</text><line x1="1213.8" y1="1286.5" x2="1216.3" y2="1286.5" stroke="#555" stroke-width="0.8" /><text x="1211.5" y="1294.6" font-family="DejaVu Sans, sans-serif" font-size="22" text-anchor="end" font-weight="normal" fill="#000" >0.3</text><line x1="1213.8" y1="1193.1" x2="1216.3" y2="1193.1" stroke="#555" stroke-width="0.8" /><text x="1211.5" y="1201.2" font-family="DejaVu Sans, sans-serif" font-size="22" text-anchor="end" font-weight="normal" fill="#000" >0.4</text><text x="1467" y="1643" font-family="DejaVu Sans, sans-serif" font-size="19.4" text-anchor="middle" font-weight="normal" fill="#000" >Displacement (mm)</text><text transform="translate(1170,1358) rotate(-90)" x="0" y="0" font-family="DejaVu Sans, sans-serif" font-size="19.4" text-anchor="middle" fill="#000">Load (kN)</text><text x="1467" y="1103.4" font-family="DejaVu Sans, sans-serif" font-size="23.3" text-anchor="middle" font-weight="normal" fill="#000" >White Material</text><rect x="1238.8" y="1149.8" width="355.7" height="62.2" rx="3" fill="#fff" fill-opacity="0.8" stroke="#333" stroke-width="1"/><line x1="1245.5" y1="1164.9" x2="1287.5" y2="1164.9" stroke="#a8c3ca" stroke-width="4.6" /><line x1="1245.5" y1="1193.7" x2="1287.5" y2="1193.7" stroke="#e8834d" stroke-width="5.4" /><text x="1301.5" y="1172" font-family="DejaVu Sans, sans-serif" font-size="19.4" text-anchor="start" font-weight="normal" fill="#000" >CAD Cavity Diameter: 0mm</text><text x="1301.5" y="1200.8" font-family="DejaVu Sans, sans-serif" font-size="19.4" text-anchor="start" font-weight="normal" fill="#000" >CAD Cavity Diameter: 2.6mm</text><text x="1156.5" y="1124.5" font-family="Liberation Sans, sans-serif" font-size="41" text-anchor="start" font-weight="bold" fill="#000" >g</text><line x1="669.9" y1="1701.5" x2="1668.1" y2="2134" stroke="#cd4f57" stroke-width="4.8" /><line x1="669.9" y1="2106.3" x2="1668.1" y2="2143" stroke="#b0e0e6" stroke-width="4.8" /><rect x="663.1" y="1701" width="13.6" height="13.6" fill="#cd4f57" stroke="none" stroke-width="1" /><rect x="1010.3" y="1849.8" width="13.6" height="13.6" fill="#cd4f57" stroke="none" stroke-width="1" /><rect x="1053.7" y="1856.9" width="13.6" height="13.6" fill="#cd4f57" stroke="none" stroke-width="1" /><rect x="1140.5" y="1902.8" width="13.6" height="13.6" fill="#cd4f57" stroke="none" stroke-width="1" /><rect x="1183.9" y="1908.3" width="13.6" height="13.6" fill="#cd4f57" stroke="none" stroke-width="1" /><rect x="1227.3" y="1942.8" width="13.6" height="13.6" fill="#cd4f57" stroke="none" stroke-width="1" /><rect x="1270.7" y="1964" width="13.6" height="13.6" fill="#cd4f57" stroke="none" stroke-width="1" /><rect x="1314.1" y="1984.8" width="13.6" height="13.6" fill="#cd4f57" stroke="none" stroke-width="1" /><rect x="1444.3" y="2001.9" width="13.6" height="13.6" fill="#cd4f57" stroke="none" stroke-width="1" /><rect x="1466" y="2033.6" width="13.6" height="13.6" fill="#cd4f57" stroke="none" stroke-width="1" /><rect x="1487.7" y="2059.3" width="13.6" height="13.6" fill="#cd4f57" stroke="none" stroke-width="1" /><rect x="1531.1" y="2072.1" width="13.6" height="13.6" fill="#cd4f57" stroke="none" stroke-width="1" /><rect x="1574.5" y="2114.1" width="13.6" height="13.6" fill="#cd4f57" stroke="none" stroke-width="1" /><rect x="1617.9" y="2121.3" width="13.6" height="13.6" fill="#cd4f57" stroke="none" stroke-width="1" /><rect x="1661.3" y="2129.2" width="13.6" height="13.6" fill="#cd4f57" stroke="none" stroke-width="1" /><circle cx="669.9" cy="2111.8" r="6.8" fill="#b0e0e6"/><circle cx="1017.1" cy="2118.1" r="6.8" fill="#b0e0e6"/><circle cx="1060.5" cy="2120.9" r="6.8" fill="#b0e0e6"/><circle cx="1147.3" cy="2121.8" r="6.8" fill="#b0e0e6"/><circle cx="1190.7" cy="2123.2" r="6.8" fill="#b0e0e6"/><circle cx="1234.1" cy="2126" r="6.8" fill="#b0e0e6"/><circle cx="1277.5" cy="2130.3" r="6.8" fill="#b0e0e6"/><circle cx="1320.9" cy="2130.3" r="6.8" fill="#b0e0e6"/><circle cx="1451.1" cy="2132.6" r="6.8" fill="#b0e0e6"/><circle cx="1472.8" cy="2134" r="6.8" fill="#b0e0e6"/><circle cx="1494.5" cy="2138.3" r="6.8" fill="#b0e0e6"/><circle cx="1537.9" cy="2140.9" r="6.8" fill="#b0e0e6"/><circle cx="1581.3" cy="2144" r="6.8" fill="#b0e0e6"/><circle cx="1624.7" cy="2144.6" r="6.8" fill="#b0e0e6"/><circle cx="1668.1" cy="2146.9" r="6.8" fill="#b0e0e6"/><rect x="620.3" y="1677.4" width="1098.4" height="491.8" fill="none" stroke="#111" stroke-width="1.9" /><line x1="669.9" y1="2169.2" x2="669.9" y2="2172.2" stroke="#555" stroke-width="0.8" /><text x="669.9" y="2198.3" font-family="DejaVu Sans, sans-serif" font-size="28.4" text-anchor="middle" font-weight="normal" fill="#000" >0.0</text><line x1="886.9" y1="2169.2" x2="886.9" y2="2172.2" stroke="#555" stroke-width="0.8" /><text x="886.9" y="2198.3" font-family="DejaVu Sans, sans-serif" font-size="28.4" text-anchor="middle" font-weight="normal" fill="#000" >0.5</text><line x1="1103.9" y1="2169.2" x2="1103.9" y2="2172.2" stroke="#555" stroke-width="0.8" /><text x="1103.9" y="2198.3" font-family="DejaVu Sans, sans-serif" font-size="28.4" text-anchor="middle" font-weight="normal" fill="#000" >1.0</text><line x1="1320.9" y1="2169.2" x2="1320.9" y2="2172.2" stroke="#555" stroke-width="0.8" /><text x="1320.9" y="2198.3" font-family="DejaVu Sans, sans-serif" font-size="28.4" text-anchor="middle" font-weight="normal" fill="#000" >1.5</text><line x1="1537.9" y1="2169.2" x2="1537.9" y2="2172.2" stroke="#555" stroke-width="0.8" /><text x="1537.9" y="2198.3" font-family="DejaVu Sans, sans-serif" font-size="28.4" text-anchor="middle" font-weight="normal" fill="#000" >2.0</text><line x1="617.3" y1="2154.4" x2="620.3" y2="2154.4" stroke="#555" stroke-width="0.8" /><text x="612" y="2164.8" font-family="DejaVu Sans, sans-serif" font-size="28.4" text-anchor="end" font-weight="normal" fill="#000" >0</text><line x1="617.3" y1="2052.4" x2="620.3" y2="2052.4" stroke="#555" stroke-width="0.8" /><text x="612" y="2062.8" font-family="DejaVu Sans, sans-serif" font-size="28.4" text-anchor="end" font-weight="normal" fill="#000" >5</text><line x1="617.3" y1="1950.4" x2="620.3" y2="1950.4" stroke="#555" stroke-width="0.8" /><text x="612" y="1960.8" font-family="DejaVu Sans, sans-serif" font-size="28.4" text-anchor="end" font-weight="normal" fill="#000" >10</text><line x1="617.3" y1="1848.4" x2="620.3" y2="1848.4" stroke="#555" stroke-width="0.8" /><text x="612" y="1858.8" font-family="DejaVu Sans, sans-serif" font-size="28.4" text-anchor="end" font-weight="normal" fill="#000" >15</text><line x1="617.3" y1="1746.4" x2="620.3" y2="1746.4" stroke="#555" stroke-width="0.8" /><text x="612" y="1756.8" font-family="DejaVu Sans, sans-serif" font-size="28.4" text-anchor="end" font-weight="normal" fill="#000" >20</text><text x="1169" y="2230" font-family="DejaVu Sans, sans-serif" font-size="28" text-anchor="middle" font-weight="normal" fill="#000" >Estimated Cavity Diameter (mm)</text><text transform="translate(567,1924.5) rotate(-90)" x="0" y="0" font-family="DejaVu Sans, sans-serif" font-size="28" text-anchor="middle" fill="#000">Equivalent Young's Modulus (MPa)</text><rect x="1221.9" y="1690" width="483.9" height="158.7" rx="3" fill="#fff" fill-opacity="0.8" stroke="#222" stroke-width="1.2"/><line x1="1230.5" y1="1710.8" x2="1286.3" y2="1710.8" stroke="#cd4f57" stroke-width="4.4" /><line x1="1230.5" y1="1748.6" x2="1286.3" y2="1748.6" stroke="#b0e0e6" stroke-width="4.4" /><rect x="1252.1" y="1780.2" width="12.6" height="12.6" fill="#cd4f57" stroke="none" stroke-width="1" /><circle cx="1258.4" cy="1824.4" r="6.3" fill="#b0e0e6"/><text x="1305.6" y="1720.1" font-family="DejaVu Sans, sans-serif" font-size="25.6" text-anchor="start" font-weight="normal" fill="#000" >White Material Linear Fit</text><text x="1305.6" y="1757.9" font-family="DejaVu Sans, sans-serif" font-size="25.6" text-anchor="start" font-weight="normal" fill="#000" >Transparent Material Linear Fit</text><text x="1305.6" y="1795.8" font-family="DejaVu Sans, sans-serif" font-size="25.6" text-anchor="start" font-weight="normal" fill="#000" >White Material</text><text x="1305.6" y="1833.7" font-family="DejaVu Sans, sans-serif" font-size="25.6" text-anchor="start" font-weight="normal" fill="#000" >Transparent Material</text><text x="563" y="1681.5" font-family="Liberation Sans, sans-serif" font-size="41" text-anchor="start" font-weight="bold" fill="#000" >i</text><rect x="18.8" y="63.5" width="493.2" height="494.1" fill="#3a3a3a" stroke="#13293a" stroke-width="3.6" /><text x="24" y="43" font-family="Liberation Sans, sans-serif" font-size="41" text-anchor="start" font-weight="bold" fill="#000" >a</text><polygon points="477.7,222.7 483.9,229.5 490.5,259.5 426.5,474.8 418,476.5 412.4,476.8 412.4,445" fill="#d2d2d2" stroke="none" stroke-width="1" /><polygon points="100.6,158.3 477.7,222.7 412.4,445.2 412.4,476.8 42.7,410 36,374" fill="url(#atop)" stroke="none" stroke-width="1" /><polygon points="477.7,222.7 481.5,228.5 484,258 421,472 412.4,476.8 412.4,445.2" fill="url(#aside)" stroke="none" stroke-width="1" /><polygon points="36,374 42.7,410 47,409 42,375" fill="#c8c8c8" stroke="none" stroke-width="1" /><g filter="url(#blur1)"><circle cx="119.8" cy="200" r="12.5" fill="url(#dimp2)"/><circle cx="155.3" cy="206.2" r="12" fill="url(#dimp2)"/><circle cx="185.8" cy="211.5" r="11.5" fill="url(#dimp2)"/><circle cx="216.3" cy="216.9" r="11" fill="url(#dimp2)"/><circle cx="245.9" cy="222" r="10.5" fill="url(#dimp2)"/><circle cx="273.5" cy="226.8" r="10" fill="url(#dimp2)"/><circle cx="298.1" cy="231.1" r="9.3" fill="url(#dimp2)"/><circle cx="320.7" cy="235.1" r="8.6" fill="url(#dimp2)"/><circle cx="341.4" cy="238.7" r="8" fill="url(#dimp2)"/><circle cx="361.1" cy="242.1" r="7.3" fill="url(#dimp2)"/><circle cx="380.8" cy="245.6" r="6.6" fill="url(#dimp2)"/><circle cx="396.6" cy="248.3" r="6" fill="url(#dimp2)"/><circle cx="411.4" cy="250.9" r="5.3" fill="url(#dimp2)"/><circle cx="424.2" cy="253.1" r="4.6" fill="url(#dimp2)"/><circle cx="436" cy="255.2" r="4" fill="url(#dimp2)"/><circle cx="445.8" cy="256.9" r="3.4" fill="url(#dimp2)"/><circle cx="106.6" cy="244.4" r="12.5" fill="url(#dimp2)"/><circle cx="142.1" cy="250.6" r="12" fill="url(#dimp2)"/><circle cx="172.6" cy="255.9" r="11.5" fill="url(#dimp2)"/><circle cx="203.1" cy="261.3" r="11" fill="url(#dimp2)"/><circle cx="232.7" cy="266.4" r="10.5" fill="url(#dimp2)"/><circle cx="260.3" cy="271.2" r="10" fill="url(#dimp2)"/><circle cx="284.9" cy="275.5" r="9.3" fill="url(#dimp2)"/><circle cx="307.5" cy="279.5" r="8.6" fill="url(#dimp2)"/><circle cx="328.2" cy="283.1" r="8" fill="url(#dimp2)"/><circle cx="347.9" cy="286.5" r="7.3" fill="url(#dimp2)"/><circle cx="367.6" cy="290" r="6.6" fill="url(#dimp2)"/><circle cx="383.4" cy="292.7" r="6" fill="url(#dimp2)"/><circle cx="398.2" cy="295.3" r="5.3" fill="url(#dimp2)"/><circle cx="411" cy="297.5" r="4.6" fill="url(#dimp2)"/><circle cx="422.8" cy="299.6" r="4" fill="url(#dimp2)"/><circle cx="432.6" cy="301.3" r="3.4" fill="url(#dimp2)"/><circle cx="93.5" cy="287.5" r="12.5" fill="url(#dimp2)"/><circle cx="129" cy="293.7" r="12" fill="url(#dimp2)"/><circle cx="159.5" cy="299" r="11.5" fill="url(#dimp2)"/><circle cx="190" cy="304.4" r="11" fill="url(#dimp2)"/><circle cx="219.6" cy="309.5" r="10.5" fill="url(#dimp2)"/><circle cx="247.2" cy="314.3" r="10" fill="url(#dimp2)"/><circle cx="271.8" cy="318.6" r="9.3" fill="url(#dimp2)"/><circle cx="294.4" cy="322.6" r="8.6" fill="url(#dimp2)"/><circle cx="315.1" cy="326.2" r="8" fill="url(#dimp2)"/><circle cx="334.8" cy="329.6" r="7.3" fill="url(#dimp2)"/><circle cx="354.5" cy="333.1" r="6.6" fill="url(#dimp2)"/><circle cx="370.3" cy="335.8" r="6" fill="url(#dimp2)"/><circle cx="385.1" cy="338.4" r="5.3" fill="url(#dimp2)"/><circle cx="397.9" cy="340.6" r="4.6" fill="url(#dimp2)"/><circle cx="409.7" cy="342.7" r="4" fill="url(#dimp2)"/><circle cx="419.5" cy="344.4" r="3.4" fill="url(#dimp2)"/><circle cx="80.4" cy="331.4" r="12.5" fill="url(#dimp2)"/><circle cx="115.9" cy="337.6" r="12" fill="url(#dimp2)"/><circle cx="146.4" cy="342.9" r="11.5" fill="url(#dimp2)"/><circle cx="176.9" cy="348.3" r="11" fill="url(#dimp2)"/><circle cx="206.5" cy="353.4" r="10.5" fill="url(#dimp2)"/><circle cx="234.1" cy="358.2" r="10" fill="url(#dimp2)"/><circle cx="258.7" cy="362.5" r="9.3" fill="url(#dimp2)"/><circle cx="281.3" cy="366.5" r="8.6" fill="url(#dimp2)"/><circle cx="302" cy="370.1" r="8" fill="url(#dimp2)"/><circle cx="321.7" cy="373.5" r="7.3" fill="url(#dimp2)"/><circle cx="341.4" cy="377" r="6.6" fill="url(#dimp2)"/><circle cx="357.2" cy="379.7" r="6" fill="url(#dimp2)"/><circle cx="372" cy="382.3" r="5.3" fill="url(#dimp2)"/><circle cx="384.8" cy="384.5" r="4.6" fill="url(#dimp2)"/><circle cx="396.6" cy="386.6" r="4" fill="url(#dimp2)"/><circle cx="406.4" cy="388.3" r="3.4" fill="url(#dimp2)"/><circle cx="67.3" cy="374.5" r="12.5" fill="url(#dimp2)"/><circle cx="102.8" cy="380.7" r="12" fill="url(#dimp2)"/><circle cx="133.3" cy="386" r="11.5" fill="url(#dimp2)"/><circle cx="163.8" cy="391.4" r="11" fill="url(#dimp2)"/><circle cx="193.4" cy="396.5" r="10.5" fill="url(#dimp2)"/><circle cx="221" cy="401.3" r="10" fill="url(#dimp2)"/><circle cx="245.6" cy="405.6" r="9.3" fill="url(#dimp2)"/><circle cx="268.2" cy="409.6" r="8.6" fill="url(#dimp2)"/><circle cx="288.9" cy="413.2" r="8" fill="url(#dimp2)"/><circle cx="308.6" cy="416.6" r="7.3" fill="url(#dimp2)"/><circle cx="328.3" cy="420.1" r="6.6" fill="url(#dimp2)"/><circle cx="344.1" cy="422.8" r="6" fill="url(#dimp2)"/><circle cx="358.9" cy="425.4" r="5.3" fill="url(#dimp2)"/><circle cx="371.7" cy="427.6" r="4.6" fill="url(#dimp2)"/><circle cx="383.5" cy="429.7" r="4" fill="url(#dimp2)"/><circle cx="393.3" cy="431.4" r="3.4" fill="url(#dimp2)"/></g><rect x="12" y="641.9" width="1702.5" height="417" fill="#000" stroke="none" stroke-width="1" /><text x="22" y="689" font-family="Liberation Sans, sans-serif" font-size="41" text-anchor="start" font-weight="bold" fill="#fff" >d</text><polygon points="210.6,727.5 271.4,727.5 273,756.9 272.2,801 205.1,801 195,760.6" fill="url(#wcube)" stroke="none" stroke-width="1" /><polygon points="287.2,729.5 349.5,729.5 351,760.9 350.2,808 282.7,808 274,764.8" fill="url(#wcube)" stroke="none" stroke-width="1" /><polygon points="365.8,729 426.1,729 427.5,760.2 426.8,807 362.4,807 355.5,764.1" fill="url(#wcube)" stroke="none" stroke-width="1" /><polygon points="440.3,726.5 499.6,726.5 501,758.3 500.3,806 437.9,806 432.5,762.3" fill="url(#wcube)" stroke="none" stroke-width="1" /><polygon points="512.6,726.5 570.7,726.5 572,758.7 571.4,807 511,807 507,762.7" fill="url(#wcube)" stroke="none" stroke-width="1" /><polygon points="590.1,725 648.6,725 650,757 649,805 589.3,805 586.5,761" fill="url(#wcube)" stroke="none" stroke-width="1" /><polygon points="666.8,723.5 723.7,723.5 726.5,754.1 725.1,800 666.7,800 665,757.9" fill="url(#wcube)" stroke="none" stroke-width="1" /><polygon points="739,725 796.7,725 801,755 799.1,800 739.6,800 739,758.8" fill="url(#wcube)" stroke="none" stroke-width="1" /><polygon points="815,727 871.6,727 877.5,755.4 875.2,798 815.6,798 815,759" fill="url(#wcube)" stroke="none" stroke-width="1" /><polygon points="886,725 948.6,725 957,756.6 953.9,804 886.7,804 886,760.5" fill="url(#wcube)" stroke="none" stroke-width="1" /><polygon points="960.7,727 1024,727 1034.5,759 1030.7,807 961.4,807 960.7,763" fill="url(#wcube)" stroke="none" stroke-width="1" /><polygon points="1034.5,727 1096.1,727 1108.5,758.6 1104.2,806 1035.2,806 1034.5,762.5" fill="url(#wcube)" stroke="none" stroke-width="1" /><polygon points="1107,726 1167.6,726 1182,757.6 1177.1,805 1107.8,805 1107,761.5" fill="url(#wcube)" stroke="none" stroke-width="1" /><polygon points="1179.5,725 1237.1,725 1253,757 1247.6,805 1180.2,805 1179.5,761" fill="url(#wcube)" stroke="none" stroke-width="1" /><polygon points="1250.6,723.8 1311.7,723.8 1331,755.9 1324.6,804 1251.4,804 1250.6,759.9" fill="url(#wcube)" stroke="none" stroke-width="1" /><polygon points="183.7,801.5 250.5,801.5 252.2,840.4 248,886 173.7,886 168.7,840.4" fill="url(#tcubeF)" stroke="none" stroke-width="1" /><polygon points="183.7,801.5 250.5,801.5 246.7,840.4 171.7,840.4" fill="#959893" stroke="none" stroke-width="1" /><polygon points="183.7,801.5 250.5,801.5 252.2,840.4 248,886 173.7,886 168.7,840.4" fill="none" stroke="#dcdfd8" stroke-width="1.3" opacity="0.8"/><line x1="168.7" y1="840.4" x2="252.2" y2="840.4" stroke="#dfe2dc" stroke-width="1.4"/><ellipse cx="213.5" cy="870" rx="16.7" ry="9" fill="url(#blueb)" opacity="0.75"/><polygon points="266.1,802 328.2,802 330.5,840.2 326.6,885 257.6,885 253,840.2" fill="url(#tcubeF)" stroke="none" stroke-width="1" /><polygon points="266.1,802 328.2,802 325.5,840.2 255.9,840.2" fill="url(#tcubeT)" stroke="none" stroke-width="1" /><polygon points="266.1,802 328.2,802 330.5,840.2 326.6,885 257.6,885 253,840.2" fill="none" stroke="#dcdfd8" stroke-width="1.3" opacity="0.8"/><line x1="253" y1="840.2" x2="330.5" y2="840.2" stroke="#dfe2dc" stroke-width="1.4"/><circle cx="273.6" cy="811.2" r="2.7" fill="none" stroke="#eef0ec" stroke-width="1.1" opacity="0.5"/><circle cx="292.4" cy="811.2" r="2.7" fill="none" stroke="#eef0ec" stroke-width="1.1" opacity="0.5"/><circle cx="311.2" cy="811.2" r="2.7" fill="none" stroke="#eef0ec" stroke-width="1.1" opacity="0.5"/><circle cx="280.2" cy="821.6" r="2.7" fill="none" stroke="#eef0ec" stroke-width="1.1" opacity="0.5"/><circle cx="299" cy="821.6" r="2.7" fill="none" stroke="#eef0ec" stroke-width="1.1" opacity="0.5"/><circle cx="317.8" cy="821.6" r="2.7" fill="none" stroke="#eef0ec" stroke-width="1.1" opacity="0.5"/><circle cx="273.6" cy="832" r="2.7" fill="none" stroke="#eef0ec" stroke-width="1.1" opacity="0.5"/><circle cx="292.4" cy="832" r="2.7" fill="none" stroke="#eef0ec" stroke-width="1.1" opacity="0.5"/><circle cx="311.2" cy="832" r="2.7" fill="none" stroke="#eef0ec" stroke-width="1.1" opacity="0.5"/><circle cx="268.5" cy="848.2" r="3.3" fill="url(#bump)" opacity="0.8"/><circle cx="291.8" cy="848.2" r="3.3" fill="url(#bump)" opacity="0.8"/><circle cx="315" cy="848.2" r="3.3" fill="url(#bump)" opacity="0.8"/><circle cx="272.5" cy="860.7" r="3.3" fill="url(#bump)" opacity="0.8"/><circle cx="295.8" cy="860.7" r="3.3" fill="url(#bump)" opacity="0.8"/><circle cx="319" cy="860.7" r="3.3" fill="url(#bump)" opacity="0.8"/><circle cx="268.5" cy="873.2" r="3.3" fill="url(#bump)" opacity="0.8"/><circle cx="291.8" cy="873.2" r="3.3" fill="url(#bump)" opacity="0.8"/><circle cx="315" cy="873.2" r="3.3" fill="url(#bump)" opacity="0.8"/><ellipse cx="297.4" cy="869" rx="15.5" ry="9" fill="url(#blueb)" opacity="0.75"/><polygon points="349.8,800 413.3,800 416.5,838.9 412.5,884.5 342.1,884.5 337.4,838.9" fill="url(#tcubeF)" stroke="none" stroke-width="1" /><polygon points="349.8,800 413.3,800 411.5,838.9 340.6,838.9" fill="url(#tcubeT)" stroke="none" stroke-width="1" /><polygon points="349.8,800 413.3,800 416.5,838.9 412.5,884.5 342.1,884.5 337.4,838.9" fill="none" stroke="#dcdfd8" stroke-width="1.3" opacity="0.8"/><line x1="337.4" y1="838.9" x2="416.5" y2="838.9" stroke="#dfe2dc" stroke-width="1.4"/><circle cx="357.5" cy="809.3" r="2.8" fill="none" stroke="#eef0ec" stroke-width="1.1" opacity="0.5"/><circle cx="376.8" cy="809.3" r="2.8" fill="none" stroke="#eef0ec" stroke-width="1.1" opacity="0.5"/><circle cx="396" cy="809.3" r="2.8" fill="none" stroke="#eef0ec" stroke-width="1.1" opacity="0.5"/><circle cx="364.3" cy="819.9" r="2.8" fill="none" stroke="#eef0ec" stroke-width="1.1" opacity="0.5"/><circle cx="383.5" cy="819.9" r="2.8" fill="none" stroke="#eef0ec" stroke-width="1.1" opacity="0.5"/><circle cx="402.8" cy="819.9" r="2.8" fill="none" stroke="#eef0ec" stroke-width="1.1" opacity="0.5"/><circle cx="357.5" cy="830.6" r="2.8" fill="none" stroke="#eef0ec" stroke-width="1.1" opacity="0.5"/><circle cx="376.8" cy="830.6" r="2.8" fill="none" stroke="#eef0ec" stroke-width="1.1" opacity="0.5"/><circle cx="396" cy="830.6" r="2.8" fill="none" stroke="#eef0ec" stroke-width="1.1" opacity="0.5"/><circle cx="353.2" cy="846.9" r="3.4" fill="url(#bump)" opacity="0.8"/><circle cx="376.9" cy="846.9" r="3.4" fill="url(#bump)" opacity="0.8"/><circle cx="400.7" cy="846.9" r="3.4" fill="url(#bump)" opacity="0.8"/><circle cx="357.2" cy="859.4" r="3.4" fill="url(#bump)" opacity="0.8"/><circle cx="380.9" cy="859.4" r="3.4" fill="url(#bump)" opacity="0.8"/><circle cx="404.7" cy="859.4" r="3.4" fill="url(#bump)" opacity="0.8"/><circle cx="353.2" cy="871.9" r="3.4" fill="url(#bump)" opacity="0.8"/><circle cx="376.9" cy="871.9" r="3.4" fill="url(#bump)" opacity="0.8"/><circle cx="400.7" cy="871.9" r="3.4" fill="url(#bump)" opacity="0.8"/><ellipse cx="384" cy="868.5" rx="15.8" ry="9" fill="url(#blueb)" opacity="0.75"/><polygon points="433.2,801 490.4,801 494,839.6 490.4,885 427.1,885 422.8,839.6" fill="url(#tcubeF)" stroke="none" stroke-width="1" /><polygon points="433.2,801 490.4,801 489.6,839.6 425.8,839.6" fill="url(#tcubeT)" stroke="none" stroke-width="1" /><polygon points="433.2,801 490.4,801 494,839.6 490.4,885 427.1,885 422.8,839.6" fill="none" stroke="#dcdfd8" stroke-width="1.3" opacity="0.8"/><line x1="422.8" y1="839.6" x2="494" y2="839.6" stroke="#dfe2dc" stroke-width="1.4"/><circle cx="440.1" cy="810.3" r="2.9" fill="none" stroke="#eef0ec" stroke-width="1.1" opacity="0.5"/><circle cx="457.5" cy="810.3" r="2.9" fill="none" stroke="#eef0ec" stroke-width="1.1" opacity="0.5"/><circle cx="474.8" cy="810.3" r="2.9" fill="none" stroke="#eef0ec" stroke-width="1.1" opacity="0.5"/><circle cx="446.2" cy="820.8" r="2.9" fill="none" stroke="#eef0ec" stroke-width="1.1" opacity="0.5"/><circle cx="463.5" cy="820.8" r="2.9" fill="none" stroke="#eef0ec" stroke-width="1.1" opacity="0.5"/><circle cx="480.9" cy="820.8" r="2.9" fill="none" stroke="#eef0ec" stroke-width="1.1" opacity="0.5"/><circle cx="440.1" cy="831.4" r="2.9" fill="none" stroke="#eef0ec" stroke-width="1.1" opacity="0.5"/><circle cx="457.5" cy="831.4" r="2.9" fill="none" stroke="#eef0ec" stroke-width="1.1" opacity="0.5"/><circle cx="474.8" cy="831.4" r="2.9" fill="none" stroke="#eef0ec" stroke-width="1.1" opacity="0.5"/><circle cx="437" cy="847.6" r="3.4" fill="url(#bump)" opacity="0.8"/><circle cx="458.4" cy="847.6" r="3.4" fill="url(#bump)" opacity="0.8"/><circle cx="479.8" cy="847.6" r="3.4" fill="url(#bump)" opacity="0.8"/><circle cx="441" cy="860.1" r="3.4" fill="url(#bump)" opacity="0.8"/><circle cx="462.4" cy="860.1" r="3.4" fill="url(#bump)" opacity="0.8"/><circle cx="483.8" cy="860.1" r="3.4" fill="url(#bump)" opacity="0.8"/><circle cx="437" cy="872.6" r="3.4" fill="url(#bump)" opacity="0.8"/><circle cx="458.4" cy="872.6" r="3.4" fill="url(#bump)" opacity="0.8"/><circle cx="479.8" cy="872.6" r="3.4" fill="url(#bump)" opacity="0.8"/><ellipse cx="467.9" cy="869" rx="14.2" ry="9" fill="url(#blueb)" opacity="0.75"/><polygon points="508.3,798 563.9,798 568,837.6 564.5,884 503.1,884 499,837.6" fill="url(#tcubeF)" stroke="none" stroke-width="1" /><polygon points="508.3,798 563.9,798 563.8,837.6 502,837.6" fill="url(#tcubeT)" stroke="none" stroke-width="1" /><polygon points="508.3,798 563.9,798 568,837.6 564.5,884 503.1,884 499,837.6" fill="none" stroke="#dcdfd8" stroke-width="1.3" opacity="0.8"/><line x1="499" y1="837.6" x2="568" y2="837.6" stroke="#dfe2dc" stroke-width="1.4"/><circle cx="515" cy="807.4" r="3" fill="none" stroke="#eef0ec" stroke-width="1.1" opacity="0.5"/><circle cx="531.9" cy="807.4" r="3" fill="none" stroke="#eef0ec" stroke-width="1.1" opacity="0.5"/><circle cx="548.7" cy="807.4" r="3" fill="none" stroke="#eef0ec" stroke-width="1.1" opacity="0.5"/><circle cx="520.9" cy="818.3" r="3" fill="none" stroke="#eef0ec" stroke-width="1.1" opacity="0.5"/><circle cx="537.7" cy="818.3" r="3" fill="none" stroke="#eef0ec" stroke-width="1.1" opacity="0.5"/><circle cx="554.6" cy="818.3" r="3" fill="none" stroke="#eef0ec" stroke-width="1.1" opacity="0.5"/><circle cx="515" cy="829.1" r="3" fill="none" stroke="#eef0ec" stroke-width="1.1" opacity="0.5"/><circle cx="531.9" cy="829.1" r="3" fill="none" stroke="#eef0ec" stroke-width="1.1" opacity="0.5"/><circle cx="548.7" cy="829.1" r="3" fill="none" stroke="#eef0ec" stroke-width="1.1" opacity="0.5"/><circle cx="512.8" cy="845.6" r="3.5" fill="url(#bump)" opacity="0.8"/><circle cx="533.5" cy="845.6" r="3.5" fill="url(#bump)" opacity="0.8"/><circle cx="554.2" cy="845.6" r="3.5" fill="url(#bump)" opacity="0.8"/><circle cx="516.8" cy="858.1" r="3.5" fill="url(#bump)" opacity="0.8"/><circle cx="537.5" cy="858.1" r="3.5" fill="url(#bump)" opacity="0.8"/><circle cx="558.2" cy="858.1" r="3.5" fill="url(#bump)" opacity="0.8"/><circle cx="512.8" cy="870.6" r="3.5" fill="url(#bump)" opacity="0.8"/><circle cx="533.5" cy="870.6" r="3.5" fill="url(#bump)" opacity="0.8"/><circle cx="554.2" cy="870.6" r="3.5" fill="url(#bump)" opacity="0.8"/><ellipse cx="538.5" cy="868" rx="13.8" ry="9" fill="url(#blueb)" opacity="0.75"/><polygon points="588.5,798 644.6,798 649.5,837.1 646,883 584.2,883 580,837.1" fill="url(#tcubeF)" stroke="none" stroke-width="1" /><polygon points="588.5,798 644.6,798 645.4,837.1 583.2,837.1" fill="url(#tcubeT)" stroke="none" stroke-width="1" /><polygon points="588.5,798 644.6,798 649.5,837.1 646,883 584.2,883 580,837.1" fill="none" stroke="#dcdfd8" stroke-width="1.3" opacity="0.8"/><line x1="580" y1="837.1" x2="649.5" y2="837.1" stroke="#dfe2dc" stroke-width="1.4"/><circle cx="595.3" cy="807.4" r="3.1" fill="none" stroke="#eef0ec" stroke-width="1.1" opacity="0.5"/><circle cx="612.3" cy="807.4" r="3.1" fill="none" stroke="#eef0ec" stroke-width="1.1" opacity="0.5"/><circle cx="629.3" cy="807.4" r="3.1" fill="none" stroke="#eef0ec" stroke-width="1.1" opacity="0.5"/><circle cx="601.3" cy="818" r="3.1" fill="none" stroke="#eef0ec" stroke-width="1.1" opacity="0.5"/><circle cx="618.3" cy="818" r="3.1" fill="none" stroke="#eef0ec" stroke-width="1.1" opacity="0.5"/><circle cx="635.3" cy="818" r="3.1" fill="none" stroke="#eef0ec" stroke-width="1.1" opacity="0.5"/><circle cx="595.3" cy="828.8" r="3.1" fill="none" stroke="#eef0ec" stroke-width="1.1" opacity="0.5"/><circle cx="612.3" cy="828.8" r="3.1" fill="none" stroke="#eef0ec" stroke-width="1.1" opacity="0.5"/><circle cx="629.3" cy="828.8" r="3.1" fill="none" stroke="#eef0ec" stroke-width="1.1" opacity="0.5"/><circle cx="593.9" cy="845.1" r="3.6" fill="url(#bump)" opacity="0.8"/><circle cx="614.8" cy="845.1" r="3.6" fill="url(#bump)" opacity="0.8"/><circle cx="635.6" cy="845.1" r="3.6" fill="url(#bump)" opacity="0.8"/><circle cx="597.9" cy="857.6" r="3.6" fill="url(#bump)" opacity="0.8"/><circle cx="618.8" cy="857.6" r="3.6" fill="url(#bump)" opacity="0.8"/><circle cx="639.6" cy="857.6" r="3.6" fill="url(#bump)" opacity="0.8"/><circle cx="593.9" cy="870.1" r="3.6" fill="url(#bump)" opacity="0.8"/><circle cx="614.8" cy="870.1" r="3.6" fill="url(#bump)" opacity="0.8"/><circle cx="635.6" cy="870.1" r="3.6" fill="url(#bump)" opacity="0.8"/><ellipse cx="623.6" cy="867" rx="13.9" ry="9" fill="url(#blueb)" opacity="0.75"/><polygon points="666.4,798 719.7,798 725,837.1 721.7,883 663,883 659,837.1" fill="url(#tcubeF)" stroke="none" stroke-width="1" /><polygon points="666.4,798 719.7,798 721.2,837.1 662.2,837.1" fill="url(#tcubeT)" stroke="none" stroke-width="1" /><polygon points="666.4,798 719.7,798 725,837.1 721.7,883 663,883 659,837.1" fill="none" stroke="#dcdfd8" stroke-width="1.3" opacity="0.8"/><line x1="659" y1="837.1" x2="725" y2="837.1" stroke="#dfe2dc" stroke-width="1.4"/><circle cx="672.8" cy="807.4" r="3.2" fill="none" stroke="#eef0ec" stroke-width="1.1" opacity="0.5"/><circle cx="689" cy="807.4" r="3.2" fill="none" stroke="#eef0ec" stroke-width="1.1" opacity="0.5"/><circle cx="705.2" cy="807.4" r="3.2" fill="none" stroke="#eef0ec" stroke-width="1.1" opacity="0.5"/><circle cx="678.5" cy="818" r="3.2" fill="none" stroke="#eef0ec" stroke-width="1.1" opacity="0.5"/><circle cx="694.7" cy="818" r="3.2" fill="none" stroke="#eef0ec" stroke-width="1.1" opacity="0.5"/><circle cx="710.8" cy="818" r="3.2" fill="none" stroke="#eef0ec" stroke-width="1.1" opacity="0.5"/><circle cx="672.8" cy="828.8" r="3.2" fill="none" stroke="#eef0ec" stroke-width="1.1" opacity="0.5"/><circle cx="689" cy="828.8" r="3.2" fill="none" stroke="#eef0ec" stroke-width="1.1" opacity="0.5"/><circle cx="705.2" cy="828.8" r="3.2" fill="none" stroke="#eef0ec" stroke-width="1.1" opacity="0.5"/><circle cx="672.2" cy="845.1" r="3.7" fill="url(#bump)" opacity="0.8"/><circle cx="692" cy="845.1" r="3.7" fill="url(#bump)" opacity="0.8"/><circle cx="711.8" cy="845.1" r="3.7" fill="url(#bump)" opacity="0.8"/><circle cx="676.2" cy="857.6" r="3.7" fill="url(#bump)" opacity="0.8"/><circle cx="696" cy="857.6" r="3.7" fill="url(#bump)" opacity="0.8"/><circle cx="715.8" cy="857.6" r="3.7" fill="url(#bump)" opacity="0.8"/><circle cx="672.2" cy="870.1" r="3.7" fill="url(#bump)" opacity="0.8"/><circle cx="692" cy="870.1" r="3.7" fill="url(#bump)" opacity="0.8"/><circle cx="711.8" cy="870.1" r="3.7" fill="url(#bump)" opacity="0.8"/><ellipse cx="682.7" cy="867" rx="13.2" ry="9" fill="url(#blueb)" opacity="0.75"/><polygon points="744.6,798 798.1,798 804,837.1 800.7,883 742,883 738,837.1" fill="url(#tcubeF)" stroke="none" stroke-width="1" /><polygon points="744.6,798 798.1,798 800.2,837.1 741.3,837.1" fill="url(#tcubeT)" stroke="none" stroke-width="1" /><polygon points="744.6,798 798.1,798 804,837.1 800.7,883 742,883 738,837.1" fill="none" stroke="#dcdfd8" stroke-width="1.3" opacity="0.8"/><line x1="738" y1="837.1" x2="804" y2="837.1" stroke="#dfe2dc" stroke-width="1.4"/><circle cx="751.1" cy="807.4" r="3.3" fill="none" stroke="#eef0ec" stroke-width="1.1" opacity="0.5"/><circle cx="767.3" cy="807.4" r="3.3" fill="none" stroke="#eef0ec" stroke-width="1.1" opacity="0.5"/><circle cx="783.5" cy="807.4" r="3.3" fill="none" stroke="#eef0ec" stroke-width="1.1" opacity="0.5"/><circle cx="756.8" cy="818" r="3.3" fill="none" stroke="#eef0ec" stroke-width="1.1" opacity="0.5"/><circle cx="773" cy="818" r="3.3" fill="none" stroke="#eef0ec" stroke-width="1.1" opacity="0.5"/><circle cx="789.1" cy="818" r="3.3" fill="none" stroke="#eef0ec" stroke-width="1.1" opacity="0.5"/><circle cx="751.1" cy="828.8" r="3.3" fill="none" stroke="#eef0ec" stroke-width="1.1" opacity="0.5"/><circle cx="767.3" cy="828.8" r="3.3" fill="none" stroke="#eef0ec" stroke-width="1.1" opacity="0.5"/><circle cx="783.5" cy="828.8" r="3.3" fill="none" stroke="#eef0ec" stroke-width="1.1" opacity="0.5"/><circle cx="751.2" cy="845.1" r="3.8" fill="url(#bump)" opacity="0.8"/><circle cx="771" cy="845.1" r="3.8" fill="url(#bump)" opacity="0.8"/><circle cx="790.8" cy="845.1" r="3.8" fill="url(#bump)" opacity="0.8"/><circle cx="755.2" cy="857.6" r="3.8" fill="url(#bump)" opacity="0.8"/><circle cx="775" cy="857.6" r="3.8" fill="url(#bump)" opacity="0.8"/><circle cx="794.8" cy="857.6" r="3.8" fill="url(#bump)" opacity="0.8"/><circle cx="751.2" cy="870.1" r="3.8" fill="url(#bump)" opacity="0.8"/><circle cx="771" cy="870.1" r="3.8" fill="url(#bump)" opacity="0.8"/><circle cx="790.8" cy="870.1" r="3.8" fill="url(#bump)" opacity="0.8"/><ellipse cx="770.3" cy="867" rx="13.2" ry="9" fill="url(#blueb)" opacity="0.75"/><polygon points="820.3,798 877.5,798 884.6,837.8 881.1,884.5 818.2,884.5 814,837.8" fill="url(#tcubeF)" stroke="none" stroke-width="1" /><polygon points="820.3,798 877.5,798 880.7,837.8 817.7,837.8" fill="url(#tcubeT)" stroke="none" stroke-width="1" /><polygon points="820.3,798 877.5,798 884.6,837.8 881.1,884.5 818.2,884.5 814,837.8" fill="none" stroke="#dcdfd8" stroke-width="1.3" opacity="0.8"/><line x1="814" y1="837.8" x2="884.6" y2="837.8" stroke="#dfe2dc" stroke-width="1.4"/><circle cx="825.6" cy="806.1" r="3.4" fill="none" stroke="#eef0ec" stroke-width="1.1" opacity="0.5"/><circle cx="838.9" cy="806.1" r="3.4" fill="none" stroke="#eef0ec" stroke-width="1.1" opacity="0.5"/><circle cx="852.2" cy="806.1" r="3.4" fill="none" stroke="#eef0ec" stroke-width="1.1" opacity="0.5"/><circle cx="865.5" cy="806.1" r="3.4" fill="none" stroke="#eef0ec" stroke-width="1.1" opacity="0.5"/><circle cx="830.2" cy="814.3" r="3.4" fill="none" stroke="#eef0ec" stroke-width="1.1" opacity="0.5"/><circle cx="843.6" cy="814.3" r="3.4" fill="none" stroke="#eef0ec" stroke-width="1.1" opacity="0.5"/><circle cx="856.9" cy="814.3" r="3.4" fill="none" stroke="#eef0ec" stroke-width="1.1" opacity="0.5"/><circle cx="870.2" cy="814.3" r="3.4" fill="none" stroke="#eef0ec" stroke-width="1.1" opacity="0.5"/><circle cx="825.6" cy="822.5" r="3.4" fill="none" stroke="#eef0ec" stroke-width="1.1" opacity="0.5"/><circle cx="838.9" cy="822.5" r="3.4" fill="none" stroke="#eef0ec" stroke-width="1.1" opacity="0.5"/><circle cx="852.2" cy="822.5" r="3.4" fill="none" stroke="#eef0ec" stroke-width="1.1" opacity="0.5"/><circle cx="865.5" cy="822.5" r="3.4" fill="none" stroke="#eef0ec" stroke-width="1.1" opacity="0.5"/><circle cx="830.2" cy="830.7" r="3.4" fill="none" stroke="#eef0ec" stroke-width="1.1" opacity="0.5"/><circle cx="843.6" cy="830.7" r="3.4" fill="none" stroke="#eef0ec" stroke-width="1.1" opacity="0.5"/><circle cx="856.9" cy="830.7" r="3.4" fill="none" stroke="#eef0ec" stroke-width="1.1" opacity="0.5"/><circle cx="870.2" cy="830.7" r="3.4" fill="none" stroke="#eef0ec" stroke-width="1.1" opacity="0.5"/><circle cx="828.1" cy="845.8" r="3.8" fill="url(#bump)" opacity="0.8"/><circle cx="849.3" cy="845.8" r="3.8" fill="url(#bump)" opacity="0.8"/><circle cx="870.5" cy="845.8" r="3.8" fill="url(#bump)" opacity="0.8"/><circle cx="832.1" cy="858.3" r="3.8" fill="url(#bump)" opacity="0.8"/><circle cx="853.3" cy="858.3" r="3.8" fill="url(#bump)" opacity="0.8"/><circle cx="874.5" cy="858.3" r="3.8" fill="url(#bump)" opacity="0.8"/><circle cx="828.1" cy="870.8" r="3.8" fill="url(#bump)" opacity="0.8"/><circle cx="849.3" cy="870.8" r="3.8" fill="url(#bump)" opacity="0.8"/><circle cx="870.5" cy="870.8" r="3.8" fill="url(#bump)" opacity="0.8"/><ellipse cx="858.7" cy="868.5" rx="14.1" ry="9" fill="url(#blueb)" opacity="0.75"/><polygon points="899.2,797 959.8,797 968,837.2 964.3,884.5 897.9,884.5 893.4,837.2" fill="url(#tcubeF)" stroke="none" stroke-width="1" /><polygon points="899.2,797 959.8,797 963.9,837.2 897.4,837.2" fill="url(#tcubeT)" stroke="none" stroke-width="1" /><polygon points="899.2,797 959.8,797 968,837.2 964.3,884.5 897.9,884.5 893.4,837.2" fill="none" stroke="#dcdfd8" stroke-width="1.3" opacity="0.8"/><line x1="893.4" y1="837.2" x2="968" y2="837.2" stroke="#dfe2dc" stroke-width="1.4"/><circle cx="904.8" cy="805.2" r="3.5" fill="none" stroke="#eef0ec" stroke-width="1.1" opacity="0.5"/><circle cx="918.9" cy="805.2" r="3.5" fill="none" stroke="#eef0ec" stroke-width="1.1" opacity="0.5"/><circle cx="933" cy="805.2" r="3.5" fill="none" stroke="#eef0ec" stroke-width="1.1" opacity="0.5"/><circle cx="947.1" cy="805.2" r="3.5" fill="none" stroke="#eef0ec" stroke-width="1.1" opacity="0.5"/><circle cx="909.7" cy="813.5" r="3.5" fill="none" stroke="#eef0ec" stroke-width="1.1" opacity="0.5"/><circle cx="923.8" cy="813.5" r="3.5" fill="none" stroke="#eef0ec" stroke-width="1.1" opacity="0.5"/><circle cx="937.9" cy="813.5" r="3.5" fill="none" stroke="#eef0ec" stroke-width="1.1" opacity="0.5"/><circle cx="952" cy="813.5" r="3.5" fill="none" stroke="#eef0ec" stroke-width="1.1" opacity="0.5"/><circle cx="904.8" cy="821.8" r="3.5" fill="none" stroke="#eef0ec" stroke-width="1.1" opacity="0.5"/><circle cx="918.9" cy="821.8" r="3.5" fill="none" stroke="#eef0ec" stroke-width="1.1" opacity="0.5"/><circle cx="933" cy="821.8" r="3.5" fill="none" stroke="#eef0ec" stroke-width="1.1" opacity="0.5"/><circle cx="947.1" cy="821.8" r="3.5" fill="none" stroke="#eef0ec" stroke-width="1.1" opacity="0.5"/><circle cx="909.7" cy="830.1" r="3.5" fill="none" stroke="#eef0ec" stroke-width="1.1" opacity="0.5"/><circle cx="923.8" cy="830.1" r="3.5" fill="none" stroke="#eef0ec" stroke-width="1.1" opacity="0.5"/><circle cx="937.9" cy="830.1" r="3.5" fill="none" stroke="#eef0ec" stroke-width="1.1" opacity="0.5"/><circle cx="952" cy="830.1" r="3.5" fill="none" stroke="#eef0ec" stroke-width="1.1" opacity="0.5"/><circle cx="908.3" cy="845.2" r="3.9" fill="url(#bump)" opacity="0.8"/><circle cx="930.7" cy="845.2" r="3.9" fill="url(#bump)" opacity="0.8"/><circle cx="953.1" cy="845.2" r="3.9" fill="url(#bump)" opacity="0.8"/><circle cx="912.3" cy="857.8" r="3.9" fill="url(#bump)" opacity="0.8"/><circle cx="934.7" cy="857.8" r="3.9" fill="url(#bump)" opacity="0.8"/><circle cx="957.1" cy="857.8" r="3.9" fill="url(#bump)" opacity="0.8"/><circle cx="908.3" cy="870.2" r="3.9" fill="url(#bump)" opacity="0.8"/><circle cx="930.7" cy="870.2" r="3.9" fill="url(#bump)" opacity="0.8"/><circle cx="953.1" cy="870.2" r="3.9" fill="url(#bump)" opacity="0.8"/><ellipse cx="934" cy="868.5" rx="14.9" ry="9" fill="url(#blueb)" opacity="0.75"/><polygon points="979.2,797 1043.5,797 1053,837.2 1049,884.5 978.7,884.5 974,837.2" fill="url(#tcubeF)" stroke="none" stroke-width="1" /><polygon points="979.2,797 1043.5,797 1048.8,837.2 978.4,837.2" fill="url(#tcubeT)" stroke="none" stroke-width="1" /><polygon points="979.2,797 1043.5,797 1053,837.2 1049,884.5 978.7,884.5 974,837.2" fill="none" stroke="#dcdfd8" stroke-width="1.3" opacity="0.8"/><line x1="974" y1="837.2" x2="1053" y2="837.2" stroke="#dfe2dc" stroke-width="1.4"/><circle cx="985.2" cy="805.2" r="3.6" fill="none" stroke="#eef0ec" stroke-width="1.1" opacity="0.5"/><circle cx="1000.1" cy="805.2" r="3.6" fill="none" stroke="#eef0ec" stroke-width="1.1" opacity="0.5"/><circle cx="1015.1" cy="805.2" r="3.6" fill="none" stroke="#eef0ec" stroke-width="1.1" opacity="0.5"/><circle cx="1030.1" cy="805.2" r="3.6" fill="none" stroke="#eef0ec" stroke-width="1.1" opacity="0.5"/><circle cx="990.4" cy="813.5" r="3.6" fill="none" stroke="#eef0ec" stroke-width="1.1" opacity="0.5"/><circle cx="1005.4" cy="813.5" r="3.6" fill="none" stroke="#eef0ec" stroke-width="1.1" opacity="0.5"/><circle cx="1020.3" cy="813.5" r="3.6" fill="none" stroke="#eef0ec" stroke-width="1.1" opacity="0.5"/><circle cx="1035.3" cy="813.5" r="3.6" fill="none" stroke="#eef0ec" stroke-width="1.1" opacity="0.5"/><circle cx="985.2" cy="821.8" r="3.6" fill="none" stroke="#eef0ec" stroke-width="1.1" opacity="0.5"/><circle cx="1000.1" cy="821.8" r="3.6" fill="none" stroke="#eef0ec" stroke-width="1.1" opacity="0.5"/><circle cx="1015.1" cy="821.8" r="3.6" fill="none" stroke="#eef0ec" stroke-width="1.1" opacity="0.5"/><circle cx="1030.1" cy="821.8" r="3.6" fill="none" stroke="#eef0ec" stroke-width="1.1" opacity="0.5"/><circle cx="990.4" cy="830.1" r="3.6" fill="none" stroke="#eef0ec" stroke-width="1.1" opacity="0.5"/><circle cx="1005.4" cy="830.1" r="3.6" fill="none" stroke="#eef0ec" stroke-width="1.1" opacity="0.5"/><circle cx="1020.3" cy="830.1" r="3.6" fill="none" stroke="#eef0ec" stroke-width="1.1" opacity="0.5"/><circle cx="1035.3" cy="830.1" r="3.6" fill="none" stroke="#eef0ec" stroke-width="1.1" opacity="0.5"/><circle cx="989.8" cy="845.2" r="4" fill="url(#bump)" opacity="0.8"/><circle cx="1013.5" cy="845.2" r="4" fill="url(#bump)" opacity="0.8"/><circle cx="1037.2" cy="845.2" r="4" fill="url(#bump)" opacity="0.8"/><circle cx="993.8" cy="857.8" r="4" fill="url(#bump)" opacity="0.8"/><circle cx="1017.5" cy="857.8" r="4" fill="url(#bump)" opacity="0.8"/><circle cx="1041.2" cy="857.8" r="4" fill="url(#bump)" opacity="0.8"/><circle cx="989.8" cy="870.2" r="4" fill="url(#bump)" opacity="0.8"/><circle cx="1013.5" cy="870.2" r="4" fill="url(#bump)" opacity="0.8"/><circle cx="1037.2" cy="870.2" r="4" fill="url(#bump)" opacity="0.8"/><ellipse cx="1023" cy="868.5" rx="15.8" ry="9" fill="url(#blueb)" opacity="0.75"/><polygon points="1057.2,799 1120,799 1130,838.1 1126.2,884 1057.6,884 1053,838.1" fill="url(#tcubeF)" stroke="none" stroke-width="1" /><polygon points="1057.2,799 1120,799 1126,838.1 1057.5,838.1" fill="url(#tcubeT)" stroke="none" stroke-width="1" /><polygon points="1057.2,799 1120,799 1130,838.1 1126.2,884 1057.6,884 1053,838.1" fill="none" stroke="#dcdfd8" stroke-width="1.3" opacity="0.8"/><line x1="1053" y1="838.1" x2="1130" y2="838.1" stroke="#dfe2dc" stroke-width="1.4"/><circle cx="1063" cy="807" r="3.7" fill="none" stroke="#eef0ec" stroke-width="1.1" opacity="0.5"/><circle cx="1077.6" cy="807" r="3.7" fill="none" stroke="#eef0ec" stroke-width="1.1" opacity="0.5"/><circle cx="1092.2" cy="807" r="3.7" fill="none" stroke="#eef0ec" stroke-width="1.1" opacity="0.5"/><circle cx="1106.8" cy="807" r="3.7" fill="none" stroke="#eef0ec" stroke-width="1.1" opacity="0.5"/><circle cx="1068.1" cy="815" r="3.7" fill="none" stroke="#eef0ec" stroke-width="1.1" opacity="0.5"/><circle cx="1082.7" cy="815" r="3.7" fill="none" stroke="#eef0ec" stroke-width="1.1" opacity="0.5"/><circle cx="1097.3" cy="815" r="3.7" fill="none" stroke="#eef0ec" stroke-width="1.1" opacity="0.5"/><circle cx="1112" cy="815" r="3.7" fill="none" stroke="#eef0ec" stroke-width="1.1" opacity="0.5"/><circle cx="1063" cy="823.1" r="3.7" fill="none" stroke="#eef0ec" stroke-width="1.1" opacity="0.5"/><circle cx="1077.6" cy="823.1" r="3.7" fill="none" stroke="#eef0ec" stroke-width="1.1" opacity="0.5"/><circle cx="1092.2" cy="823.1" r="3.7" fill="none" stroke="#eef0ec" stroke-width="1.1" opacity="0.5"/><circle cx="1106.8" cy="823.1" r="3.7" fill="none" stroke="#eef0ec" stroke-width="1.1" opacity="0.5"/><circle cx="1068.1" cy="831.1" r="3.7" fill="none" stroke="#eef0ec" stroke-width="1.1" opacity="0.5"/><circle cx="1082.7" cy="831.1" r="3.7" fill="none" stroke="#eef0ec" stroke-width="1.1" opacity="0.5"/><circle cx="1097.3" cy="831.1" r="3.7" fill="none" stroke="#eef0ec" stroke-width="1.1" opacity="0.5"/><circle cx="1112" cy="831.1" r="3.7" fill="none" stroke="#eef0ec" stroke-width="1.1" opacity="0.5"/><circle cx="1068.4" cy="846.1" r="4.1" fill="url(#bump)" opacity="0.8"/><circle cx="1091.5" cy="846.1" r="4.1" fill="url(#bump)" opacity="0.8"/><circle cx="1114.6" cy="846.1" r="4.1" fill="url(#bump)" opacity="0.8"/><circle cx="1072.4" cy="858.6" r="4.1" fill="url(#bump)" opacity="0.8"/><circle cx="1095.5" cy="858.6" r="4.1" fill="url(#bump)" opacity="0.8"/><circle cx="1118.6" cy="858.6" r="4.1" fill="url(#bump)" opacity="0.8"/><circle cx="1068.4" cy="871.1" r="4.1" fill="url(#bump)" opacity="0.8"/><circle cx="1091.5" cy="871.1" r="4.1" fill="url(#bump)" opacity="0.8"/><circle cx="1114.6" cy="871.1" r="4.1" fill="url(#bump)" opacity="0.8"/><ellipse cx="1082.6" cy="868" rx="15.4" ry="9" fill="url(#blueb)" opacity="0.75"/><polygon points="1132.8,797 1197.4,797 1208.5,836.6 1204.5,883 1134.1,883 1129.4,836.6" fill="url(#tcubeF)" stroke="none" stroke-width="1" /><polygon points="1132.8,797 1197.4,797 1204.5,836.6 1134.1,836.6" fill="url(#tcubeT)" stroke="none" stroke-width="1" /><polygon points="1132.8,797 1197.4,797 1208.5,836.6 1204.5,883 1134.1,883 1129.4,836.6" fill="none" stroke="#dcdfd8" stroke-width="1.3" opacity="0.8"/><line x1="1129.4" y1="836.6" x2="1208.5" y2="836.6" stroke="#dfe2dc" stroke-width="1.4"/><circle cx="1138.8" cy="805.1" r="3.8" fill="none" stroke="#eef0ec" stroke-width="1.1" opacity="0.5"/><circle cx="1153.8" cy="805.1" r="3.8" fill="none" stroke="#eef0ec" stroke-width="1.1" opacity="0.5"/><circle cx="1168.9" cy="805.1" r="3.8" fill="none" stroke="#eef0ec" stroke-width="1.1" opacity="0.5"/><circle cx="1183.9" cy="805.1" r="3.8" fill="none" stroke="#eef0ec" stroke-width="1.1" opacity="0.5"/><circle cx="1144.1" cy="813.2" r="3.8" fill="none" stroke="#eef0ec" stroke-width="1.1" opacity="0.5"/><circle cx="1159.1" cy="813.2" r="3.8" fill="none" stroke="#eef0ec" stroke-width="1.1" opacity="0.5"/><circle cx="1174.1" cy="813.2" r="3.8" fill="none" stroke="#eef0ec" stroke-width="1.1" opacity="0.5"/><circle cx="1189.2" cy="813.2" r="3.8" fill="none" stroke="#eef0ec" stroke-width="1.1" opacity="0.5"/><circle cx="1138.8" cy="821.4" r="3.8" fill="none" stroke="#eef0ec" stroke-width="1.1" opacity="0.5"/><circle cx="1153.8" cy="821.4" r="3.8" fill="none" stroke="#eef0ec" stroke-width="1.1" opacity="0.5"/><circle cx="1168.9" cy="821.4" r="3.8" fill="none" stroke="#eef0ec" stroke-width="1.1" opacity="0.5"/><circle cx="1183.9" cy="821.4" r="3.8" fill="none" stroke="#eef0ec" stroke-width="1.1" opacity="0.5"/><circle cx="1144.1" cy="829.5" r="3.8" fill="none" stroke="#eef0ec" stroke-width="1.1" opacity="0.5"/><circle cx="1159.1" cy="829.5" r="3.8" fill="none" stroke="#eef0ec" stroke-width="1.1" opacity="0.5"/><circle cx="1174.1" cy="829.5" r="3.8" fill="none" stroke="#eef0ec" stroke-width="1.1" opacity="0.5"/><circle cx="1189.2" cy="829.5" r="3.8" fill="none" stroke="#eef0ec" stroke-width="1.1" opacity="0.5"/><circle cx="1145.2" cy="844.6" r="4.2" fill="url(#bump)" opacity="0.8"/><circle cx="1169" cy="844.6" r="4.2" fill="url(#bump)" opacity="0.8"/><circle cx="1192.7" cy="844.6" r="4.2" fill="url(#bump)" opacity="0.8"/><circle cx="1149.2" cy="857.1" r="4.2" fill="url(#bump)" opacity="0.8"/><circle cx="1173" cy="857.1" r="4.2" fill="url(#bump)" opacity="0.8"/><circle cx="1196.7" cy="857.1" r="4.2" fill="url(#bump)" opacity="0.8"/><circle cx="1145.2" cy="869.6" r="4.2" fill="url(#bump)" opacity="0.8"/><circle cx="1169" cy="869.6" r="4.2" fill="url(#bump)" opacity="0.8"/><circle cx="1192.7" cy="869.6" r="4.2" fill="url(#bump)" opacity="0.8"/><ellipse cx="1168.2" cy="867" rx="15.8" ry="9" fill="url(#blueb)" opacity="0.75"/><polygon points="1206.5,797 1272.8,797 1285,836.6 1281,883 1208.9,883 1204,836.6" fill="url(#tcubeF)" stroke="none" stroke-width="1" /><polygon points="1206.5,797 1272.8,797 1281,836.6 1209,836.6" fill="url(#tcubeT)" stroke="none" stroke-width="1" /><polygon points="1206.5,797 1272.8,797 1285,836.6 1281,883 1208.9,883 1204,836.6" fill="none" stroke="#dcdfd8" stroke-width="1.3" opacity="0.8"/><line x1="1204" y1="836.6" x2="1285" y2="836.6" stroke="#dfe2dc" stroke-width="1.4"/><circle cx="1212.7" cy="805.1" r="3.9" fill="none" stroke="#eef0ec" stroke-width="1.1" opacity="0.5"/><circle cx="1228.1" cy="805.1" r="3.9" fill="none" stroke="#eef0ec" stroke-width="1.1" opacity="0.5"/><circle cx="1243.6" cy="805.1" r="3.9" fill="none" stroke="#eef0ec" stroke-width="1.1" opacity="0.5"/><circle cx="1259" cy="805.1" r="3.9" fill="none" stroke="#eef0ec" stroke-width="1.1" opacity="0.5"/><circle cx="1218.1" cy="813.2" r="3.9" fill="none" stroke="#eef0ec" stroke-width="1.1" opacity="0.5"/><circle cx="1233.5" cy="813.2" r="3.9" fill="none" stroke="#eef0ec" stroke-width="1.1" opacity="0.5"/><circle cx="1248.9" cy="813.2" r="3.9" fill="none" stroke="#eef0ec" stroke-width="1.1" opacity="0.5"/><circle cx="1264.4" cy="813.2" r="3.9" fill="none" stroke="#eef0ec" stroke-width="1.1" opacity="0.5"/><circle cx="1212.7" cy="821.4" r="3.9" fill="none" stroke="#eef0ec" stroke-width="1.1" opacity="0.5"/><circle cx="1228.1" cy="821.4" r="3.9" fill="none" stroke="#eef0ec" stroke-width="1.1" opacity="0.5"/><circle cx="1243.6" cy="821.4" r="3.9" fill="none" stroke="#eef0ec" stroke-width="1.1" opacity="0.5"/><circle cx="1259" cy="821.4" r="3.9" fill="none" stroke="#eef0ec" stroke-width="1.1" opacity="0.5"/><circle cx="1218.1" cy="829.5" r="3.9" fill="none" stroke="#eef0ec" stroke-width="1.1" opacity="0.5"/><circle cx="1233.5" cy="829.5" r="3.9" fill="none" stroke="#eef0ec" stroke-width="1.1" opacity="0.5"/><circle cx="1248.9" cy="829.5" r="3.9" fill="none" stroke="#eef0ec" stroke-width="1.1" opacity="0.5"/><circle cx="1264.4" cy="829.5" r="3.9" fill="none" stroke="#eef0ec" stroke-width="1.1" opacity="0.5"/><circle cx="1220.2" cy="844.6" r="4.2" fill="url(#bump)" opacity="0.8"/><circle cx="1244.5" cy="844.6" r="4.2" fill="url(#bump)" opacity="0.8"/><circle cx="1268.8" cy="844.6" r="4.2" fill="url(#bump)" opacity="0.8"/><circle cx="1224.2" cy="857.1" r="4.2" fill="url(#bump)" opacity="0.8"/><circle cx="1248.5" cy="857.1" r="4.2" fill="url(#bump)" opacity="0.8"/><circle cx="1272.8" cy="857.1" r="4.2" fill="url(#bump)" opacity="0.8"/><circle cx="1220.2" cy="869.6" r="4.2" fill="url(#bump)" opacity="0.8"/><circle cx="1244.5" cy="869.6" r="4.2" fill="url(#bump)" opacity="0.8"/><circle cx="1268.8" cy="869.6" r="4.2" fill="url(#bump)" opacity="0.8"/><ellipse cx="1238.3" cy="867" rx="16.2" ry="9" fill="url(#blueb)" opacity="0.75"/><polygon points="1282.7,796 1352.9,796 1366.6,836 1362.3,883 1286.1,883 1281,836" fill="url(#tcubeF)" stroke="none" stroke-width="1" /><polygon points="1282.7,796 1352.9,796 1362.5,836 1286.5,836" fill="url(#tcubeT)" stroke="none" stroke-width="1" /><polygon points="1282.7,796 1352.9,796 1366.6,836 1362.3,883 1286.1,883 1281,836" fill="none" stroke="#dcdfd8" stroke-width="1.3" opacity="0.8"/><line x1="1281" y1="836" x2="1366.6" y2="836" stroke="#dfe2dc" stroke-width="1.4"/><circle cx="1289.2" cy="804.1" r="4" fill="none" stroke="#eef0ec" stroke-width="1.1" opacity="0.5"/><circle cx="1305.6" cy="804.1" r="4" fill="none" stroke="#eef0ec" stroke-width="1.1" opacity="0.5"/><circle cx="1321.9" cy="804.1" r="4" fill="none" stroke="#eef0ec" stroke-width="1.1" opacity="0.5"/><circle cx="1338.2" cy="804.1" r="4" fill="none" stroke="#eef0ec" stroke-width="1.1" opacity="0.5"/><circle cx="1295" cy="812.4" r="4" fill="none" stroke="#eef0ec" stroke-width="1.1" opacity="0.5"/><circle cx="1311.3" cy="812.4" r="4" fill="none" stroke="#eef0ec" stroke-width="1.1" opacity="0.5"/><circle cx="1327.6" cy="812.4" r="4" fill="none" stroke="#eef0ec" stroke-width="1.1" opacity="0.5"/><circle cx="1343.9" cy="812.4" r="4" fill="none" stroke="#eef0ec" stroke-width="1.1" opacity="0.5"/><circle cx="1289.2" cy="820.6" r="4" fill="none" stroke="#eef0ec" stroke-width="1.1" opacity="0.5"/><circle cx="1305.6" cy="820.6" r="4" fill="none" stroke="#eef0ec" stroke-width="1.1" opacity="0.5"/><circle cx="1321.9" cy="820.6" r="4" fill="none" stroke="#eef0ec" stroke-width="1.1" opacity="0.5"/><circle cx="1338.2" cy="820.6" r="4" fill="none" stroke="#eef0ec" stroke-width="1.1" opacity="0.5"/><circle cx="1295" cy="828.9" r="4" fill="none" stroke="#eef0ec" stroke-width="1.1" opacity="0.5"/><circle cx="1311.3" cy="828.9" r="4" fill="none" stroke="#eef0ec" stroke-width="1.1" opacity="0.5"/><circle cx="1327.6" cy="828.9" r="4" fill="none" stroke="#eef0ec" stroke-width="1.1" opacity="0.5"/><circle cx="1343.9" cy="828.9" r="4" fill="none" stroke="#eef0ec" stroke-width="1.1" opacity="0.5"/><circle cx="1298.1" cy="844" r="4.3" fill="url(#bump)" opacity="0.8"/><circle cx="1323.8" cy="844" r="4.3" fill="url(#bump)" opacity="0.8"/><circle cx="1349.5" cy="844" r="4.3" fill="url(#bump)" opacity="0.8"/><circle cx="1302.1" cy="856.5" r="4.3" fill="url(#bump)" opacity="0.8"/><circle cx="1327.8" cy="856.5" r="4.3" fill="url(#bump)" opacity="0.8"/><circle cx="1353.5" cy="856.5" r="4.3" fill="url(#bump)" opacity="0.8"/><circle cx="1298.1" cy="869" r="4.3" fill="url(#bump)" opacity="0.8"/><circle cx="1323.8" cy="869" r="4.3" fill="url(#bump)" opacity="0.8"/><circle cx="1349.5" cy="869" r="4.3" fill="url(#bump)" opacity="0.8"/><ellipse cx="1324.9" cy="867" rx="17.1" ry="9" fill="url(#blueb)" opacity="0.75"/><rect x="1276.6" y="787.8" width="98.6" height="97.7" fill="none" stroke="#3a7bc8" stroke-width="4.7" stroke-dasharray="21,18"/><rect x="106.8" y="921" width="1229.2" height="20.3" fill="url(#arrg)" stroke="none" stroke-width="1" /><polygon points="1335.5,910.9 1393.2,930.8 1335.5,951" fill="#fc2416" stroke="none" stroke-width="1" /><text x="167.5" y="989.8" font-family="Liberation Sans, sans-serif" font-size="29.5" text-anchor="middle" font-weight="normal" fill="#fff" >0</text><text x="237.1" y="989.8" font-family="Liberation Sans, sans-serif" font-size="29.5" text-anchor="middle" font-weight="normal" fill="#fff" >1.3</text><text x="323.3" y="989.8" font-family="Liberation Sans, sans-serif" font-size="29.5" text-anchor="middle" font-weight="normal" fill="#fff" >1.4</text><text x="410.1" y="989.8" font-family="Liberation Sans, sans-serif" font-size="29.5" text-anchor="middle" font-weight="normal" fill="#fff" >1.5</text><text x="495.5" y="989.8" font-family="Liberation Sans, sans-serif" font-size="29.5" text-anchor="middle" font-weight="normal" fill="#fff" >1.6</text><text x="582" y="989.8" font-family="Liberation Sans, sans-serif" font-size="29.5" text-anchor="middle" font-weight="normal" fill="#fff" >1.7</text><text x="668.5" y="989.8" font-family="Liberation Sans, sans-serif" font-size="29.5" text-anchor="middle" font-weight="normal" fill="#fff" >1.8</text><text x="756.5" y="989.8" font-family="Liberation Sans, sans-serif" font-size="29.5" text-anchor="middle" font-weight="normal" fill="#fff" >1.9</text><text x="842.4" y="989.8" font-family="Liberation Sans, sans-serif" font-size="29.5" text-anchor="middle" font-weight="normal" fill="#fff" >2.0</text><text x="929" y="989.8" font-family="Liberation Sans, sans-serif" font-size="29.5" text-anchor="middle" font-weight="normal" fill="#fff" >2.1</text><text x="1016" y="989.8" font-family="Liberation Sans, sans-serif" font-size="29.5" text-anchor="middle" font-weight="normal" fill="#fff" >2.2</text><text x="1104" y="989.8" font-family="Liberation Sans, sans-serif" font-size="29.5" text-anchor="middle" font-weight="normal" fill="#fff" >2.3</text><text x="1190.6" y="989.8" font-family="Liberation Sans, sans-serif" font-size="29.5" text-anchor="middle" font-weight="normal" fill="#fff" >2.4</text><text x="1274.4" y="989.8" font-family="Liberation Sans, sans-serif" font-size="29.5" text-anchor="middle" font-weight="normal" fill="#fff" >2.5</text><text x="1351.3" y="989.8" font-family="Liberation Sans, sans-serif" font-size="29.5" text-anchor="middle" font-weight="normal" fill="#fff" >2.6</text><text x="775.5" y="1037.5" font-family="Liberation Sans, sans-serif" font-size="30.5" text-anchor="middle" font-weight="normal" fill="#fff" >CAD Cavity Diameter (mm)</text><text x="1555" y="685.4" font-family="Liberation Sans, sans-serif" font-size="30.6" text-anchor="middle" font-weight="normal" fill="#fff" >FCC crystal</text><text x="1555" y="721.5" font-family="Liberation Sans, sans-serif" font-size="30.6" text-anchor="middle" font-weight="normal" fill="#fff" >structure cavity</text><polygon points="1550.8,732 1675.9,812.5 1675.9,947.6 1550.8,1027.6 1426,947.6 1426,812" fill="#474747" stroke="none" stroke-width="1" /><polygon points="1550.8,732 1675.9,812.5 1550.8,893 1426,812" fill="#505050" stroke="none" stroke-width="1" /><polygon points="1426,812 1550.8,893 1550.8,1027.6 1426,947.6" fill="#434343" stroke="none" stroke-width="1" /><circle cx="1550.8" cy="980.1" r="17.4" fill="url(#sc)" opacity="0.93"/><circle cx="1494" cy="944.1" r="17.4" fill="url(#sc)" opacity="0.93"/><circle cx="1550.8" cy="944.1" r="17.4" fill="url(#sc)" opacity="0.93"/><circle cx="1607.7" cy="944.1" r="17.4" fill="url(#sc)" opacity="0.93"/><circle cx="1522.7" cy="930.9" r="17.4" fill="url(#st)" opacity="0.93"/><circle cx="1579.3" cy="930.9" r="17.4" fill="url(#st)" opacity="0.93"/><circle cx="1494" cy="910.7" r="17.4" fill="url(#sc)" opacity="0.93"/><circle cx="1550.8" cy="910.7" r="17.4" fill="url(#sc)" opacity="0.93"/><circle cx="1607.7" cy="910.7" r="17.4" fill="url(#sc)" opacity="0.93"/><circle cx="1550.8" cy="918.6" r="17.4" fill="url(#sp)" opacity="0.93"/><circle cx="1465.4" cy="894.9" r="17.4" fill="url(#st)" opacity="0.93"/><circle cx="1522.7" cy="894.9" r="17.4" fill="url(#st)" opacity="0.93"/><circle cx="1579.3" cy="894.9" r="17.4" fill="url(#st)" opacity="0.93"/><circle cx="1636.4" cy="894.9" r="17.4" fill="url(#st)" opacity="0.93"/><circle cx="1494" cy="881.7" r="17.4" fill="url(#sp)" opacity="0.93"/><circle cx="1550.8" cy="881.7" r="17.4" fill="url(#sp)" opacity="0.93"/><circle cx="1607.7" cy="881.7" r="17.4" fill="url(#sp)" opacity="0.93"/><circle cx="1522.7" cy="870.3" r="17.4" fill="url(#sg)" opacity="0.93"/><circle cx="1579.3" cy="870.3" r="17.4" fill="url(#sg)" opacity="0.93"/><circle cx="1494" cy="845.7" r="17.4" fill="url(#sp)" opacity="0.93"/><circle cx="1550.8" cy="845.7" r="17.4" fill="url(#sp)" opacity="0.93"/><circle cx="1607.7" cy="845.7" r="17.4" fill="url(#sp)" opacity="0.93"/><circle cx="1465.4" cy="833.4" r="17.4" fill="url(#sg)" opacity="0.93"/><circle cx="1522.7" cy="833.4" r="17.4" fill="url(#sg)" opacity="0.93"/><circle cx="1579.3" cy="833.4" r="17.4" fill="url(#sg)" opacity="0.93"/><circle cx="1636.4" cy="833.4" r="17.4" fill="url(#sg)" opacity="0.93"/><circle cx="1550.8" cy="808.8" r="17.4" fill="url(#sp)" opacity="0.93"/><circle cx="1522.7" cy="797.3" r="17.4" fill="url(#sg)" opacity="0.93"/><circle cx="1579.3" cy="797.3" r="17.4" fill="url(#sg)" opacity="0.93"/><g clip-path="url(#lface)"><circle cx="1465.4" cy="833.4" r="17.4" fill="url(#sgD)" opacity="0.9"/><circle cx="1494" cy="845.7" r="17.4" fill="url(#spD)" opacity="0.9"/><circle cx="1494" cy="881.7" r="17.4" fill="url(#spD)" opacity="0.9"/><circle cx="1522.7" cy="870.3" r="17.4" fill="url(#sgD)" opacity="0.9"/><circle cx="1550.8" cy="881.7" r="17.4" fill="url(#spD)" opacity="0.9"/><circle cx="1550.8" cy="918.6" r="17.4" fill="url(#spD)" opacity="0.9"/></g><polygon points="1550.8,732 1675.9,812.5 1675.9,947.6 1550.8,1027.6 1426,947.6 1426,812" fill="#808080" stroke="none" stroke-width="1" fill-opacity="0.08"/><line x1="1550.8" y1="893" x2="1550.8" y2="1027.6" stroke="#6a6a6a" stroke-width="0.8" opacity="0.6"/><line x1="1426" y1="812" x2="1550.8" y2="893" stroke="#6a6a6a" stroke-width="0.8" opacity="0.5"/><line x1="1550.8" y1="893" x2="1675.9" y2="812.5" stroke="#6a6a6a" stroke-width="0.8" opacity="0.5"/><rect x="9" y="1078" width="524.6" height="524.6" fill="#050607" stroke="none" stroke-width="1" /><rect x="11.7" y="1081.1" width="519" height="518" filter="url(#speck)" opacity="0.45"/><g clip-path="url(#clipe)"><polygon points="219,1103.7 467,1212 469,1280 465,1396 306,1575 67.4,1459 64.5,1288.5" fill="#b4bcc4" stroke="none" stroke-width="1" /><polygon points="64.5,1288.5 325,1410 306,1575 67.4,1459" fill="url(#eleft)" stroke="none" stroke-width="1" /><polygon points="467,1212 469,1280 465,1396 306,1575 325,1410" fill="url(#eright)" stroke="none" stroke-width="1" /><polygon points="219,1103.7 467,1212 325,1410 64.5,1288.5" fill="url(#etop)" stroke="none" stroke-width="1" /><g clip-path="url(#ecube)"><ellipse cx="105" cy="1405" rx="34" ry="50" fill="url(#edark)"/><ellipse cx="175" cy="1485" rx="30" ry="28" fill="url(#edark)"/><ellipse cx="150" cy="1325" rx="24" ry="30" fill="url(#edark)"/><ellipse cx="300" cy="1468" rx="36" ry="26" fill="url(#edark)"/><ellipse cx="420" cy="1375" rx="22" ry="55" fill="url(#edark)"/><ellipse cx="447" cy="1300" rx="14" ry="45" fill="url(#edark)"/><ellipse cx="385" cy="1458" rx="26" ry="30" fill="url(#edark)"/><ellipse cx="240" cy="1440" rx="26" ry="22" fill="url(#edark)"/><ellipse cx="90" cy="1455" rx="20" ry="20" fill="url(#edark)"/><ellipse cx="280" cy="1455" rx="50" ry="40" fill="url(#ewhite)"/><ellipse cx="200" cy="1400" rx="40" ry="30" fill="url(#ewhite)"/><ellipse cx="110" cy="1350" rx="25" ry="30" fill="url(#ewhite)"/><ellipse cx="350" cy="1510" rx="30" ry="30" fill="url(#ewhite)"/><ellipse cx="420" cy="1440" rx="25" ry="40" fill="url(#ewhite)"/><ellipse cx="236" cy="1522" rx="32" ry="20" fill="url(#eblue)"/><ellipse cx="136" cy="1446" rx="18" ry="18" fill="url(#eblue)"/><ellipse cx="372" cy="1512" rx="30" ry="14" fill="url(#eblue)"/><ellipse cx="442" cy="1428" rx="10" ry="20" fill="url(#eblue)"/><ellipse cx="205" cy="1500" rx="16" ry="14" fill="url(#eblue)"/><path d="M67.4 1459 L306 1575 L465 1396" fill="none" stroke="#d8dde0" stroke-width="2.2" stroke-linejoin="round" stroke-linecap="round" opacity="0.7"/></g><circle cx="237.2" cy="1171.4" r="27" fill="url(#ebub)"/><path d="M227.8 1172.8 A9.7 8.1 0 0 1 246.6 1172.8" fill="none" stroke="#f2f5f6" stroke-width="2" opacity="0.75"/><circle cx="246.6" cy="1164.7" r="2.2" fill="#fff" opacity="0.8"/><circle cx="201.5" cy="1203.3" r="33" fill="url(#ebub)"/><path d="M189.9 1205 A11.9 9.9 0 0 1 213.1 1205" fill="none" stroke="#f2f5f6" stroke-width="2" opacity="0.75"/><circle cx="213.1" cy="1195" r="2.2" fill="#fff" opacity="0.8"/><circle cx="293.8" cy="1191" r="31" fill="url(#ebub)"/><path d="M282.9 1192.5 A11.2 9.3 0 0 1 304.7 1192.5" fill="none" stroke="#f2f5f6" stroke-width="2" opacity="0.75"/><circle cx="304.7" cy="1183.2" r="2.2" fill="#fff" opacity="0.8"/><circle cx="222.4" cy="1272.2" r="33" fill="url(#ebub)"/><path d="M210.8 1273.9 A11.9 9.9 0 0 1 234 1273.9" fill="none" stroke="#f2f5f6" stroke-width="2" opacity="0.75"/><circle cx="234" cy="1264" r="2.2" fill="#fff" opacity="0.8"/><circle cx="313.4" cy="1252.6" r="32" fill="url(#ebub)"/><path d="M302.2 1254.2 A11.5 9.6 0 0 1 324.6 1254.2" fill="none" stroke="#f2f5f6" stroke-width="2" opacity="0.75"/><circle cx="324.6" cy="1244.6" r="2.2" fill="#fff" opacity="0.8"/><circle cx="404.5" cy="1240.3" r="30" fill="url(#ebub)"/><path d="M394 1241.8 A10.8 9 0 0 1 415 1241.8" fill="none" stroke="#f2f5f6" stroke-width="2" opacity="0.75"/><circle cx="415" cy="1232.8" r="2.2" fill="#fff" opacity="0.8"/><circle cx="133.8" cy="1294.4" r="32" fill="url(#ebub)"/><path d="M122.6 1296 A11.5 9.6 0 0 1 145 1296" fill="none" stroke="#f2f5f6" stroke-width="2" opacity="0.75"/><circle cx="145" cy="1286.4" r="2.2" fill="#fff" opacity="0.8"/><circle cx="247" cy="1343.6" r="30" fill="url(#ebub)"/><path d="M236.5 1345.1 A10.8 9 0 0 1 257.5 1345.1" fill="none" stroke="#f2f5f6" stroke-width="2" opacity="0.75"/><circle cx="257.5" cy="1336.1" r="2.2" fill="#fff" opacity="0.8"/><circle cx="333.1" cy="1321.5" r="30" fill="url(#ebub)"/><path d="M322.6 1323 A10.8 9 0 0 1 343.6 1323" fill="none" stroke="#f2f5f6" stroke-width="2" opacity="0.75"/><circle cx="343.6" cy="1314" r="2.2" fill="#fff" opacity="0.8"/><line x1="64.5" y1="1288.5" x2="325" y2="1410" stroke="#d4dadd" stroke-width="1.5" opacity="0.7"/><line x1="325" y1="1410" x2="467" y2="1212" stroke="#c6ced4" stroke-width="1.2" opacity="0.5"/><path d="M64.5 1288.5 L219 1103.7 L467 1212" fill="none" stroke="#d8dee2" stroke-width="1.6" stroke-linejoin="round" stroke-linecap="round" opacity="0.8"/></g><rect x="9" y="1078.1" width="524.6" height="524.4" fill="none" stroke="#3d7fcf" stroke-width="5.8" stroke-dasharray="16.8,6.2" stroke-dashoffset="8"/><text x="24.5" y="1129.5" font-family="Liberation Sans, sans-serif" font-size="41" text-anchor="start" font-weight="bold" fill="#fff" >e</text><text x="511.5" y="1138.1" font-family="Liberation Sans, sans-serif" font-size="30.2" text-anchor="end" font-weight="normal" fill="#fff" >a = 4.525mm</text><text x="52" y="1545.9" font-family="Liberation Sans, sans-serif" font-size="30.2" text-anchor="start" font-weight="normal" fill="#fff" >5 mm</text><rect x="30" y="1557.6" width="121.2" height="19.9" fill="#fff" stroke="none" stroke-width="1" /><text x="518" y="1550.6" font-family="Liberation Sans, sans-serif" font-size="30.2" text-anchor="end" font-weight="normal" fill="#fff" >Soft based with FCC</text><text x="518" y="1587" font-family="Liberation Sans, sans-serif" font-size="30.2" text-anchor="end" font-weight="normal" fill="#fff" >crystal structure</text><g clip-path="url(#cliph)"><rect x="10.6" y="1664.2" width="518.4" height="517.6" fill="#1c1c1e" stroke="none" stroke-width="1" /><rect x="10.6" y="1664.2" width="160" height="130" fill="url(#hstripe)" stroke="none" stroke-width="1" /><rect x="352" y="1664.2" width="70" height="110" fill="#2c2e33" stroke="none" stroke-width="1" /><rect x="420" y="1664.2" width="15" height="120" fill="#161618" stroke="none" stroke-width="1" /><rect x="435" y="1664.2" width="95" height="125" fill="url(#screen)" stroke="none" stroke-width="1" /><rect x="353" y="1711.7" width="33" height="38" rx="3" fill="#3b5ec4"/><polygon points="364,1722 378,1730.5 364,1739" fill="#c8d0f0" stroke="none" stroke-width="1" /><rect x="167" y="1683" width="183" height="71" fill="url(#knurl)" stroke="none" stroke-width="1" /><rect x="167" y="1683" width="183" height="71" fill="url(#knshade)" stroke="none" stroke-width="1" /><rect x="164" y="1664.2" width="190" height="28" fill="#242424" stroke="none" stroke-width="1" /><ellipse cx="259" cy="1692" rx="95" ry="11" fill="#0e0e0e"/><rect x="164" y="1664.2" width="190" height="24" fill="url(#cylTop)"/><ellipse cx="259" cy="1692" rx="95" ry="11" fill="#0e0e0e"/><ellipse cx="213.5" cy="1721.2" rx="7.5" ry="8.5" fill="#1a1410"/><ellipse cx="346.5" cy="1740" rx="2.5" ry="7" fill="#1a1410"/><rect x="10.6" y="1870" width="240" height="75" fill="url(#hstripe2)" stroke="none" stroke-width="1" /><rect x="243" y="1872" width="73" height="72" fill="#7c7b78" stroke="none" stroke-width="1" /><rect x="243" y="1872" width="73" height="72" fill="url(#knshade)" stroke="none" stroke-width="1" /><rect x="316" y="1872" width="30" height="72" fill="#101010" stroke="none" stroke-width="1" /><rect x="340" y="1872" width="120" height="70" fill="#1a1a1a" stroke="none" stroke-width="1" /><ellipse cx="383" cy="1906" rx="36" ry="18" fill="#e2d21c"/><ellipse cx="368" cy="1932" rx="26" ry="12" fill="#e4d420"/><ellipse cx="418" cy="1898" rx="28" ry="10" fill="#e03836"/><ellipse cx="418" cy="1934" rx="30" ry="9" fill="#e03434"/><ellipse cx="398" cy="1918" rx="12" ry="8" fill="#9a9a3a"/><rect x="455" y="1878" width="75" height="48" fill="#d8d8d8" stroke="none" stroke-width="1" /><text x="470" y="1908" font-family="Liberation Sans, sans-serif" font-size="15" text-anchor="start" font-weight="normal" fill="#7a7a7a" >Mechanica</text><rect x="465" y="1926" width="65" height="140" fill="#b8b8b8" stroke="none" stroke-width="1" /><polygon points="10.6,1786 60,1772 140,1760 221.5,1754.4 330,1758 420,1765 474.5,1773.4 500,1782 515.7,1798.7 515.7,1878 512.5,1885.7 400,1883 253,1879.4 136,1882.5 10.6,1871.5" fill="url(#silverU)" stroke="none" stroke-width="1" /><polygon points="10.6,1786 60,1772 140,1760 221.5,1754.4 330,1758 420,1765 474.5,1773.4 500,1782 515.7,1798.7 515.7,1878 512.5,1885.7 400,1883 253,1879.4 136,1882.5 10.6,1871.5" fill="url(#silverV)" stroke="none" stroke-width="1" /><path d="M10.6 1786 L60 1772 L140 1760 L221.5 1754.4 L330 1758 L420 1765 L474.5 1773.4 L500 1782 L515.7 1798.7" fill="none" stroke="#dcdccc" stroke-width="3" stroke-linejoin="round" stroke-linecap="round" /><rect x="124" y="1790" width="17" height="43" fill="#5e6266" stroke="none" stroke-width="1" /><rect x="13" y="1874" width="157" height="7" fill="#8a8a80" stroke="none" stroke-width="1" opacity="0.6"/><polygon points="170.8,1766 487.2,1770 487.2,1876.5 170.8,1876" fill="#dedede" stroke="none" stroke-width="1" /><rect x="170.8" y="1766" width="316.4" height="110.3" fill="#e6e6e6" opacity="0.6"/><text transform="translate(234,1838.2) scale(0.86,1)" x="0" y="0" font-family="Liberation Sans, sans-serif" font-weight="bold" font-size="42" fill="#111">MDTL_E031b</text><polygon points="10.6,2010 70,2045 186,2066 186,2182 10.6,2182" fill="#262626" stroke="none" stroke-width="1" /><polygon points="10.6,2115 60,2100 140,2085 175,2080 186,2082 186,2118 120,2128 60,2140 10.6,2150" fill="#454545" stroke="none" stroke-width="1" /><polygon points="10.6,2150 60,2140 120,2128 186,2118 186,2140 100,2160 10.6,2175" fill="#333333" stroke="none" stroke-width="1" /><circle cx="79" cy="2166" r="12" fill="#5a5a5a"/><circle cx="79" cy="2166" r="6" fill="#3a3a3a"/><polygon points="342,2060 529,2052 529,2182 342,2182" fill="#2c2c2c" stroke="none" stroke-width="1" /><polygon points="327,2100 500,2086 529,2085 529,2110 500,2112 327,2133" fill="#575757" stroke="none" stroke-width="1" /><ellipse cx="512" cy="2097" rx="10" ry="8" fill="#222"/><rect x="470" y="2045" width="60" height="38" fill="#c4c4c4" stroke="none" stroke-width="1" /><polygon points="10.6,1939 111,1949 222.6,1953.4 378.5,1952.3 506,1944 514,1950 514,2040 490,2052 378.5,2062.5 267,2067 200.4,2062.5 133.6,2055.8 66.8,2042.4 10.6,2013.5" fill="url(#silverLo)" stroke="none" stroke-width="1" /><rect x="30" y="1950" width="3" height="55" fill="#3a3a3a" stroke="none" stroke-width="1" /><polygon points="330,1925 500,1925 514,1945 506,1944 400,1951 330,1953" fill="#2a2a2a" stroke="none" stroke-width="1" /><ellipse cx="380" cy="1942" rx="28" ry="8" fill="#e2d21c"/><ellipse cx="430" cy="1942" rx="32" ry="8" fill="#e03434"/><polygon points="230,1953 362,1952 362,2064 230,2066" fill="#1e1e1e" stroke="none" stroke-width="1" /><polygon points="250,1953 362,1952 362,2064 250,2066" fill="#2a2a2a" stroke="none" stroke-width="1" opacity="0.7"/><polygon points="125,1968 150,1962 200,1958 227,1956 227,2062 200,2062 150,2058 125,2052" fill="url(#skin)" stroke="none" stroke-width="1" /><ellipse cx="152" cy="2012" rx="24" ry="44" fill="#d6b096" opacity="0.8"/><ellipse cx="200" cy="2008" rx="26" ry="50" fill="#cfa88e" opacity="0.8"/><rect x="227" y="1953" width="138" height="112" fill="#0e0e0e" stroke="none" stroke-width="1" /><line x1="252" y1="1956" x2="250" y2="2064" stroke="#9a9a9a" stroke-width="1.6" /><rect x="252" y="2050" width="113" height="12" fill="#8a5a5a" stroke="none" stroke-width="1" opacity="0.55"/><polygon points="362,1953 514,1948 514,2042 490,2052 430,2058 362,2062" fill="#dadada" stroke="none" stroke-width="1" /><text transform="translate(420.8,2018.6) scale(0.86,1)" x="0" y="0" font-family="Liberation Sans, sans-serif" font-weight="bold" font-size="37.5" fill="#111">MDTL_E031b</text><rect x="514" y="1926" width="20" height="130" fill="#a9a9a9" stroke="none" stroke-width="1" /><rect x="172.4" y="2066" width="169.3" height="62" fill="url(#knurl)" stroke="none" stroke-width="1" /><rect x="172.4" y="2066" width="169.3" height="62" fill="url(#knshade)" stroke="none" stroke-width="1" /><ellipse cx="186.6" cy="2089.8" rx="5" ry="8" fill="#1a1410"/><ellipse cx="321.1" cy="2091.4" rx="5.5" ry="8" fill="#1a1410"/><rect x="186.6" y="2127.8" width="139.2" height="55" fill="url(#cylG)" stroke="none" stroke-width="1" /><ellipse cx="312" cy="2178" rx="34" ry="20" fill="#151515"/></g><text x="26.5" y="1715.5" font-family="Liberation Sans, sans-serif" font-size="41" text-anchor="start" font-weight="bold" fill="#fff" >h</text></svg></body></html>
